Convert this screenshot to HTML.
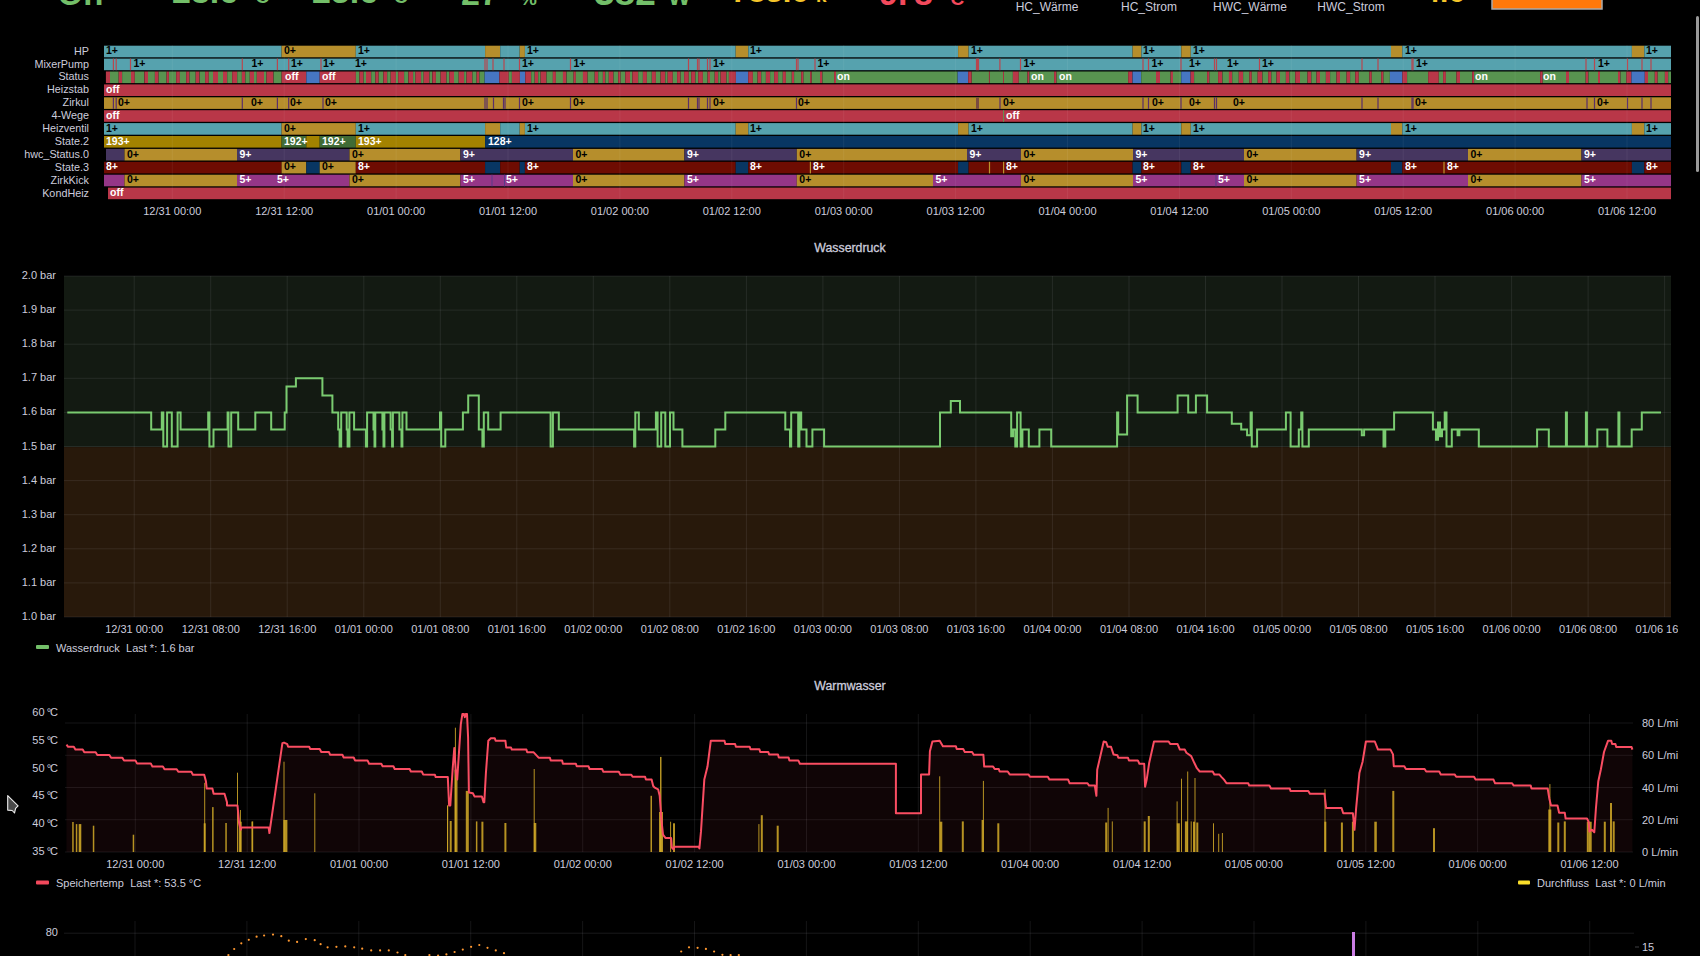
<!DOCTYPE html><html><head><meta charset="utf-8"><style>
html,body{margin:0;padding:0;background:#000;width:1700px;height:956px;overflow:hidden}
svg{position:absolute;left:0;top:0}
text{font-family:"Liberation Sans",sans-serif}
</style></head><body>
<svg width="1700" height="956" viewBox="0 0 1700 956">
<text x="57.5" y="5" font-size="33" fill="#73bf69" text-anchor="start" font-weight="bold" >On</text>
<text x="172" y="3" font-size="34" fill="#73bf69" text-anchor="start" font-weight="bold" >23.6</text>
<text x="248" y="3" font-size="19" fill="#73bf69" text-anchor="start" font-weight="bold" >°C</text>
<text x="312" y="3" font-size="34" fill="#73bf69" text-anchor="start" font-weight="bold" >25.6</text>
<text x="386.5" y="3" font-size="19" fill="#73bf69" text-anchor="start" font-weight="bold" >°C</text>
<text x="461" y="5" font-size="34" fill="#73bf69" text-anchor="start" font-weight="bold" >27</text>
<text x="520" y="5" font-size="19" fill="#73bf69" text-anchor="start" font-weight="bold" >%</text>
<text x="594" y="4.5" font-size="37" fill="#73bf69" text-anchor="start" font-weight="bold" >382</text>
<text x="668" y="4.5" font-size="24" fill="#73bf69" text-anchor="start" font-weight="bold" >W</text>
<text x="731" y="2" font-size="31" fill="#f5c52a" text-anchor="start" font-weight="bold" >783.6</text>
<text x="816" y="2" font-size="19" fill="#f5c52a" text-anchor="start" font-weight="bold" >k</text>
<text x="879" y="5" font-size="34" fill="#f2495c" text-anchor="start" font-weight="bold" >9.</text>
<text x="943" y="5" font-size="19" fill="#f2495c" text-anchor="start" font-weight="bold" >°C</text>
<text x="914" y="5" font-size="34" fill="#f2495c" text-anchor="start" font-weight="bold" >8</text>
<text x="1047" y="10.5" font-size="12" fill="#ccccdc" text-anchor="middle" font-weight="normal" >HC_Wärme</text>
<text x="1149" y="10.5" font-size="12" fill="#ccccdc" text-anchor="middle" font-weight="normal" >HC_Strom</text>
<text x="1250" y="10.5" font-size="12" fill="#ccccdc" text-anchor="middle" font-weight="normal" >HWC_Wärme</text>
<text x="1351" y="10.5" font-size="12" fill="#ccccdc" text-anchor="middle" font-weight="normal" >HWC_Strom</text>
<text x="1423.3" y="2.2" font-size="30" fill="#f5c52a" text-anchor="start" font-weight="bold" >4.6</text>
<rect x="1492" y="-4" width="110" height="13" fill="#ff780a" stroke="#aaa" stroke-width="1.5"/>
<rect x="1696" y="16" width="3" height="156" rx="1.5" fill="#9a9a9a"/>
<text x="89" y="54.6" font-size="10.8" fill="#ccccdc" text-anchor="end" font-weight="normal" >HP</text>
<text x="89" y="67.5" font-size="10.8" fill="#ccccdc" text-anchor="end" font-weight="normal" >MixerPump</text>
<text x="89" y="80.39999999999999" font-size="10.8" fill="#ccccdc" text-anchor="end" font-weight="normal" >Status</text>
<text x="89" y="93.3" font-size="10.8" fill="#ccccdc" text-anchor="end" font-weight="normal" >Heizstab</text>
<text x="89" y="106.2" font-size="10.8" fill="#ccccdc" text-anchor="end" font-weight="normal" >Zirkul</text>
<text x="89" y="119.1" font-size="10.8" fill="#ccccdc" text-anchor="end" font-weight="normal" >4-Wege</text>
<text x="89" y="132.0" font-size="10.8" fill="#ccccdc" text-anchor="end" font-weight="normal" >Heizventil</text>
<text x="89" y="144.9" font-size="10.8" fill="#ccccdc" text-anchor="end" font-weight="normal" >State.2</text>
<text x="89" y="157.8" font-size="10.8" fill="#ccccdc" text-anchor="end" font-weight="normal" >hwc_Status.0</text>
<text x="89" y="170.70000000000002" font-size="10.8" fill="#ccccdc" text-anchor="end" font-weight="normal" >State.3</text>
<text x="89" y="183.6" font-size="10.8" fill="#ccccdc" text-anchor="end" font-weight="normal" >ZirkKick</text>
<text x="89" y="196.50000000000003" font-size="10.8" fill="#ccccdc" text-anchor="end" font-weight="normal" >KondHeiz</text>
<rect x="104.0" y="45.7" width="177.6" height="11.6" fill="#56a2ae"/>
<rect x="281.6" y="45.7" width="74.2" height="11.6" fill="#b68e2c"/>
<rect x="355.8" y="45.7" width="129.3" height="11.6" fill="#56a2ae"/>
<rect x="485.1" y="45.7" width="15.1" height="11.6" fill="#b68e2c"/>
<rect x="500.2" y="45.7" width="19.5" height="11.6" fill="#56a2ae"/>
<rect x="519.7" y="45.7" width="5.2" height="11.6" fill="#b68e2c"/>
<rect x="524.9" y="45.7" width="210.8" height="11.6" fill="#56a2ae"/>
<rect x="735.7" y="45.7" width="12.6" height="11.6" fill="#b68e2c"/>
<rect x="748.3" y="45.7" width="209.8" height="11.6" fill="#56a2ae"/>
<rect x="958.1" y="45.7" width="10.5" height="11.6" fill="#b68e2c"/>
<rect x="968.6" y="45.7" width="164.0" height="11.6" fill="#56a2ae"/>
<rect x="1132.6" y="45.7" width="8.8" height="11.6" fill="#b68e2c"/>
<rect x="1141.4" y="45.7" width="39.9" height="11.6" fill="#56a2ae"/>
<rect x="1181.3" y="45.7" width="9.5" height="11.6" fill="#b68e2c"/>
<rect x="1190.8" y="45.7" width="200.2" height="11.6" fill="#56a2ae"/>
<rect x="1391.0" y="45.7" width="11.3" height="11.6" fill="#b68e2c"/>
<rect x="1402.3" y="45.7" width="229.6" height="11.6" fill="#56a2ae"/>
<rect x="1631.9" y="45.7" width="12.4" height="11.6" fill="#b68e2c"/>
<rect x="1644.3" y="45.7" width="26.7" height="11.6" fill="#56a2ae"/>
<text x="106" y="54.3" font-size="10.5" fill="#000" text-anchor="start" font-weight="bold" >1+</text>
<text x="284" y="54.3" font-size="10.5" fill="#000" text-anchor="start" font-weight="bold" >0+</text>
<text x="358" y="54.3" font-size="10.5" fill="#000" text-anchor="start" font-weight="bold" >1+</text>
<text x="527" y="54.3" font-size="10.5" fill="#000" text-anchor="start" font-weight="bold" >1+</text>
<text x="750" y="54.3" font-size="10.5" fill="#000" text-anchor="start" font-weight="bold" >1+</text>
<text x="971" y="54.3" font-size="10.5" fill="#000" text-anchor="start" font-weight="bold" >1+</text>
<text x="1143" y="54.3" font-size="10.5" fill="#000" text-anchor="start" font-weight="bold" >1+</text>
<text x="1193" y="54.3" font-size="10.5" fill="#000" text-anchor="start" font-weight="bold" >1+</text>
<text x="1405" y="54.3" font-size="10.5" fill="#000" text-anchor="start" font-weight="bold" >1+</text>
<text x="1646" y="54.3" font-size="10.5" fill="#000" text-anchor="start" font-weight="bold" >1+</text>
<rect x="104.0" y="123.1" width="177.6" height="11.6" fill="#56a2ae"/>
<rect x="281.6" y="123.1" width="74.2" height="11.6" fill="#b68e2c"/>
<rect x="355.8" y="123.1" width="129.3" height="11.6" fill="#56a2ae"/>
<rect x="485.1" y="123.1" width="15.1" height="11.6" fill="#b68e2c"/>
<rect x="500.2" y="123.1" width="19.5" height="11.6" fill="#56a2ae"/>
<rect x="519.7" y="123.1" width="5.2" height="11.6" fill="#b68e2c"/>
<rect x="524.9" y="123.1" width="210.8" height="11.6" fill="#56a2ae"/>
<rect x="735.7" y="123.1" width="12.6" height="11.6" fill="#b68e2c"/>
<rect x="748.3" y="123.1" width="209.8" height="11.6" fill="#56a2ae"/>
<rect x="958.1" y="123.1" width="10.5" height="11.6" fill="#b68e2c"/>
<rect x="968.6" y="123.1" width="164.0" height="11.6" fill="#56a2ae"/>
<rect x="1132.6" y="123.1" width="8.8" height="11.6" fill="#b68e2c"/>
<rect x="1141.4" y="123.1" width="39.9" height="11.6" fill="#56a2ae"/>
<rect x="1181.3" y="123.1" width="9.5" height="11.6" fill="#b68e2c"/>
<rect x="1190.8" y="123.1" width="200.2" height="11.6" fill="#56a2ae"/>
<rect x="1391.0" y="123.1" width="11.3" height="11.6" fill="#b68e2c"/>
<rect x="1402.3" y="123.1" width="229.6" height="11.6" fill="#56a2ae"/>
<rect x="1631.9" y="123.1" width="12.4" height="11.6" fill="#b68e2c"/>
<rect x="1644.3" y="123.1" width="26.7" height="11.6" fill="#56a2ae"/>
<text x="106" y="131.70000000000002" font-size="10.5" fill="#000" text-anchor="start" font-weight="bold" >1+</text>
<text x="284" y="131.70000000000002" font-size="10.5" fill="#000" text-anchor="start" font-weight="bold" >0+</text>
<text x="358" y="131.70000000000002" font-size="10.5" fill="#000" text-anchor="start" font-weight="bold" >1+</text>
<text x="527" y="131.70000000000002" font-size="10.5" fill="#000" text-anchor="start" font-weight="bold" >1+</text>
<text x="750" y="131.70000000000002" font-size="10.5" fill="#000" text-anchor="start" font-weight="bold" >1+</text>
<text x="971" y="131.70000000000002" font-size="10.5" fill="#000" text-anchor="start" font-weight="bold" >1+</text>
<text x="1143" y="131.70000000000002" font-size="10.5" fill="#000" text-anchor="start" font-weight="bold" >1+</text>
<text x="1193" y="131.70000000000002" font-size="10.5" fill="#000" text-anchor="start" font-weight="bold" >1+</text>
<text x="1405" y="131.70000000000002" font-size="10.5" fill="#000" text-anchor="start" font-weight="bold" >1+</text>
<text x="1646" y="131.70000000000002" font-size="10.5" fill="#000" text-anchor="start" font-weight="bold" >1+</text>
<rect x="104.0" y="58.6" width="1567.0" height="11.6" fill="#56a2ae"/>
<rect x="112.8" y="58.6" width="1.2" height="11.6" fill="#b8474f"/>
<rect x="115.6" y="58.6" width="1.2" height="11.6" fill="#b8474f"/>
<rect x="129.9" y="58.6" width="1.2" height="11.6" fill="#b8474f"/>
<rect x="241.7" y="58.6" width="1.2" height="11.6" fill="#b8474f"/>
<rect x="276.8" y="58.6" width="1.2" height="11.6" fill="#b8474f"/>
<rect x="288.1" y="58.6" width="1.2" height="11.6" fill="#b8474f"/>
<rect x="320.4" y="58.6" width="1.2" height="11.6" fill="#b8474f"/>
<rect x="484.4" y="58.6" width="1.2" height="11.6" fill="#b8474f"/>
<rect x="486.4" y="58.6" width="1.2" height="11.6" fill="#b8474f"/>
<rect x="492.4" y="58.6" width="1.2" height="11.6" fill="#b8474f"/>
<rect x="503.4" y="58.6" width="1.2" height="11.6" fill="#b8474f"/>
<rect x="518.9" y="58.6" width="1.2" height="11.6" fill="#b8474f"/>
<rect x="569.9" y="58.6" width="1.2" height="11.6" fill="#b8474f"/>
<rect x="687.9" y="58.6" width="1.2" height="11.6" fill="#b8474f"/>
<rect x="696.9" y="58.6" width="1.2" height="11.6" fill="#b8474f"/>
<rect x="698.4" y="58.6" width="1.2" height="11.6" fill="#b8474f"/>
<rect x="706.9" y="58.6" width="1.2" height="11.6" fill="#b8474f"/>
<rect x="709.4" y="58.6" width="1.2" height="11.6" fill="#b8474f"/>
<rect x="795.9" y="58.6" width="1.2" height="11.6" fill="#b8474f"/>
<rect x="797.4" y="58.6" width="1.2" height="11.6" fill="#b8474f"/>
<rect x="814.4" y="58.6" width="1.2" height="11.6" fill="#b8474f"/>
<rect x="975.9" y="58.6" width="1.2" height="11.6" fill="#b8474f"/>
<rect x="976.9" y="58.6" width="1.2" height="11.6" fill="#b8474f"/>
<rect x="977.9" y="58.6" width="1.2" height="11.6" fill="#b8474f"/>
<rect x="999.3" y="58.6" width="1.2" height="11.6" fill="#b8474f"/>
<rect x="1019.9" y="58.6" width="1.2" height="11.6" fill="#b8474f"/>
<rect x="1142.4" y="58.6" width="1.2" height="11.6" fill="#b8474f"/>
<rect x="1147.9" y="58.6" width="1.2" height="11.6" fill="#b8474f"/>
<rect x="1180.4" y="58.6" width="1.2" height="11.6" fill="#b8474f"/>
<rect x="1213.9" y="58.6" width="1.2" height="11.6" fill="#b8474f"/>
<rect x="1215.9" y="58.6" width="1.2" height="11.6" fill="#b8474f"/>
<rect x="1258.9" y="58.6" width="1.2" height="11.6" fill="#b8474f"/>
<rect x="1361.4" y="58.6" width="1.2" height="11.6" fill="#b8474f"/>
<rect x="1377.4" y="58.6" width="1.2" height="11.6" fill="#b8474f"/>
<rect x="1411.4" y="58.6" width="1.2" height="11.6" fill="#b8474f"/>
<rect x="1412.4" y="58.6" width="1.2" height="11.6" fill="#b8474f"/>
<rect x="1585.4" y="58.6" width="1.2" height="11.6" fill="#b8474f"/>
<rect x="1593.9" y="58.6" width="1.2" height="11.6" fill="#b8474f"/>
<rect x="1626.9" y="58.6" width="1.2" height="11.6" fill="#b8474f"/>
<rect x="1641.4" y="58.6" width="1.2" height="11.6" fill="#b8474f"/>
<rect x="1650.4" y="58.6" width="1.2" height="11.6" fill="#b8474f"/>
<text x="133.5" y="67.2" font-size="10.5" fill="#000" text-anchor="start" font-weight="bold" >1+</text>
<text x="251.5" y="67.2" font-size="10.5" fill="#000" text-anchor="start" font-weight="bold" >1+</text>
<text x="291" y="67.2" font-size="10.5" fill="#000" text-anchor="start" font-weight="bold" >1+</text>
<text x="323" y="67.2" font-size="10.5" fill="#000" text-anchor="start" font-weight="bold" >1+</text>
<text x="355" y="67.2" font-size="10.5" fill="#000" text-anchor="start" font-weight="bold" >1+</text>
<text x="522" y="67.2" font-size="10.5" fill="#000" text-anchor="start" font-weight="bold" >1+</text>
<text x="573.5" y="67.2" font-size="10.5" fill="#000" text-anchor="start" font-weight="bold" >1+</text>
<text x="713" y="67.2" font-size="10.5" fill="#000" text-anchor="start" font-weight="bold" >1+</text>
<text x="817.5" y="67.2" font-size="10.5" fill="#000" text-anchor="start" font-weight="bold" >1+</text>
<text x="1023.5" y="67.2" font-size="10.5" fill="#000" text-anchor="start" font-weight="bold" >1+</text>
<text x="1151.5" y="67.2" font-size="10.5" fill="#000" text-anchor="start" font-weight="bold" >1+</text>
<text x="1189" y="67.2" font-size="10.5" fill="#000" text-anchor="start" font-weight="bold" >1+</text>
<text x="1227" y="67.2" font-size="10.5" fill="#000" text-anchor="start" font-weight="bold" >1+</text>
<text x="1262" y="67.2" font-size="10.5" fill="#000" text-anchor="start" font-weight="bold" >1+</text>
<text x="1416" y="67.2" font-size="10.5" fill="#000" text-anchor="start" font-weight="bold" >1+</text>
<text x="1598" y="67.2" font-size="10.5" fill="#000" text-anchor="start" font-weight="bold" >1+</text>
<rect x="105.9" y="71.5" width="4.2" height="11.6" fill="#b93748"/>
<rect x="110.0" y="71.5" width="8.7" height="11.6" fill="#589450"/>
<rect x="118.7" y="71.5" width="3.3" height="11.6" fill="#b93748"/>
<rect x="122.1" y="71.5" width="8.9" height="11.6" fill="#589450"/>
<rect x="131.0" y="71.5" width="3.8" height="11.6" fill="#b93748"/>
<rect x="134.8" y="71.5" width="9.5" height="11.6" fill="#589450"/>
<rect x="144.4" y="71.5" width="3.7" height="11.6" fill="#b93748"/>
<rect x="148.0" y="71.5" width="6.9" height="11.6" fill="#589450"/>
<rect x="154.9" y="71.5" width="3.7" height="11.6" fill="#b93748"/>
<rect x="158.6" y="71.5" width="8.0" height="11.6" fill="#589450"/>
<rect x="166.6" y="71.5" width="2.3" height="11.6" fill="#b93748"/>
<rect x="169.0" y="71.5" width="7.2" height="11.6" fill="#589450"/>
<rect x="176.2" y="71.5" width="3.7" height="11.6" fill="#b93748"/>
<rect x="179.8" y="71.5" width="6.4" height="11.6" fill="#589450"/>
<rect x="186.2" y="71.5" width="3.3" height="11.6" fill="#b93748"/>
<rect x="189.5" y="71.5" width="6.2" height="11.6" fill="#589450"/>
<rect x="195.7" y="71.5" width="3.8" height="11.6" fill="#b93748"/>
<rect x="199.6" y="71.5" width="5.5" height="11.6" fill="#589450"/>
<rect x="205.1" y="71.5" width="3.7" height="11.6" fill="#b93748"/>
<rect x="208.8" y="71.5" width="4.2" height="11.6" fill="#589450"/>
<rect x="213.0" y="71.5" width="5.0" height="11.6" fill="#b93748"/>
<rect x="218.0" y="71.5" width="5.0" height="11.6" fill="#589450"/>
<rect x="223.0" y="71.5" width="4.2" height="11.6" fill="#b93748"/>
<rect x="227.2" y="71.5" width="5.0" height="11.6" fill="#589450"/>
<rect x="232.2" y="71.5" width="5.0" height="11.6" fill="#b93748"/>
<rect x="237.2" y="71.5" width="4.7" height="11.6" fill="#589450"/>
<rect x="241.9" y="71.5" width="3.3" height="11.6" fill="#b93748"/>
<rect x="245.3" y="71.5" width="4.5" height="11.6" fill="#589450"/>
<rect x="249.8" y="71.5" width="4.2" height="11.6" fill="#b93748"/>
<rect x="254.0" y="71.5" width="2.8" height="11.6" fill="#589450"/>
<rect x="256.8" y="71.5" width="7.2" height="11.6" fill="#b93748"/>
<rect x="264.0" y="71.5" width="2.5" height="11.6" fill="#589450"/>
<rect x="266.5" y="71.5" width="7.0" height="11.6" fill="#b93748"/>
<rect x="273.6" y="71.5" width="8.0" height="11.6" fill="#589450"/>
<rect x="281.6" y="71.5" width="24.7" height="11.6" fill="#b93748"/>
<rect x="306.3" y="71.5" width="13.4" height="11.6" fill="#4676c2"/>
<rect x="319.7" y="71.5" width="36.2" height="11.6" fill="#b93748"/>
<rect x="355.9" y="71.5" width="3.5" height="11.6" fill="#589450"/>
<rect x="359.4" y="71.5" width="4.2" height="11.6" fill="#b93748"/>
<rect x="363.6" y="71.5" width="2.4" height="11.6" fill="#589450"/>
<rect x="366.0" y="71.5" width="5.2" height="11.6" fill="#b93748"/>
<rect x="371.2" y="71.5" width="4.2" height="11.6" fill="#589450"/>
<rect x="375.4" y="71.5" width="3.3" height="11.6" fill="#b93748"/>
<rect x="378.7" y="71.5" width="4.7" height="11.6" fill="#589450"/>
<rect x="383.4" y="71.5" width="3.8" height="11.6" fill="#b93748"/>
<rect x="387.2" y="71.5" width="3.5" height="11.6" fill="#589450"/>
<rect x="390.7" y="71.5" width="5.2" height="11.6" fill="#b93748"/>
<rect x="395.9" y="71.5" width="2.4" height="11.6" fill="#589450"/>
<rect x="398.2" y="71.5" width="5.9" height="11.6" fill="#b93748"/>
<rect x="404.1" y="71.5" width="4.2" height="11.6" fill="#589450"/>
<rect x="408.4" y="71.5" width="4.7" height="11.6" fill="#b93748"/>
<rect x="413.1" y="71.5" width="2.4" height="11.6" fill="#589450"/>
<rect x="415.4" y="71.5" width="5.6" height="11.6" fill="#b93748"/>
<rect x="421.1" y="71.5" width="2.6" height="11.6" fill="#589450"/>
<rect x="423.6" y="71.5" width="5.9" height="11.6" fill="#b93748"/>
<rect x="429.5" y="71.5" width="2.8" height="11.6" fill="#589450"/>
<rect x="432.4" y="71.5" width="3.5" height="11.6" fill="#b93748"/>
<rect x="435.9" y="71.5" width="4.7" height="11.6" fill="#589450"/>
<rect x="440.6" y="71.5" width="5.9" height="11.6" fill="#b93748"/>
<rect x="446.5" y="71.5" width="2.8" height="11.6" fill="#589450"/>
<rect x="449.3" y="71.5" width="4.7" height="11.6" fill="#b93748"/>
<rect x="454.0" y="71.5" width="4.7" height="11.6" fill="#589450"/>
<rect x="458.7" y="71.5" width="5.4" height="11.6" fill="#b93748"/>
<rect x="464.1" y="71.5" width="2.4" height="11.6" fill="#589450"/>
<rect x="466.5" y="71.5" width="5.9" height="11.6" fill="#b93748"/>
<rect x="472.4" y="71.5" width="4.2" height="11.6" fill="#589450"/>
<rect x="476.6" y="71.5" width="2.8" height="11.6" fill="#b93748"/>
<rect x="479.4" y="71.5" width="5.2" height="11.6" fill="#589450"/>
<rect x="484.6" y="71.5" width="14.8" height="11.6" fill="#4676c2"/>
<rect x="499.4" y="71.5" width="9.4" height="11.6" fill="#b93748"/>
<rect x="508.8" y="71.5" width="3.1" height="11.6" fill="#589450"/>
<rect x="511.9" y="71.5" width="8.0" height="11.6" fill="#b93748"/>
<rect x="519.9" y="71.5" width="5.4" height="11.6" fill="#4676c2"/>
<rect x="525.3" y="71.5" width="5.9" height="11.6" fill="#b93748"/>
<rect x="531.2" y="71.5" width="3.5" height="11.6" fill="#589450"/>
<rect x="534.7" y="71.5" width="3.5" height="11.6" fill="#b93748"/>
<rect x="538.2" y="71.5" width="2.4" height="11.6" fill="#589450"/>
<rect x="540.6" y="71.5" width="5.9" height="11.6" fill="#b93748"/>
<rect x="546.5" y="71.5" width="6.4" height="11.6" fill="#589450"/>
<rect x="552.8" y="71.5" width="3.1" height="11.6" fill="#b93748"/>
<rect x="555.9" y="71.5" width="7.1" height="11.6" fill="#589450"/>
<rect x="562.9" y="71.5" width="3.5" height="11.6" fill="#b93748"/>
<rect x="566.5" y="71.5" width="7.1" height="11.6" fill="#589450"/>
<rect x="573.5" y="71.5" width="2.4" height="11.6" fill="#b93748"/>
<rect x="575.9" y="71.5" width="7.1" height="11.6" fill="#589450"/>
<rect x="582.9" y="71.5" width="4.7" height="11.6" fill="#b93748"/>
<rect x="587.6" y="71.5" width="7.1" height="11.6" fill="#589450"/>
<rect x="594.7" y="71.5" width="3.5" height="11.6" fill="#b93748"/>
<rect x="598.2" y="71.5" width="4.7" height="11.6" fill="#589450"/>
<rect x="602.9" y="71.5" width="2.4" height="11.6" fill="#b93748"/>
<rect x="605.3" y="71.5" width="3.5" height="11.6" fill="#589450"/>
<rect x="608.8" y="71.5" width="4.7" height="11.6" fill="#b93748"/>
<rect x="613.5" y="71.5" width="4.7" height="11.6" fill="#589450"/>
<rect x="618.2" y="71.5" width="2.4" height="11.6" fill="#b93748"/>
<rect x="620.6" y="71.5" width="4.7" height="11.6" fill="#589450"/>
<rect x="625.3" y="71.5" width="4.7" height="11.6" fill="#b93748"/>
<rect x="630.0" y="71.5" width="2.4" height="11.6" fill="#589450"/>
<rect x="632.4" y="71.5" width="5.9" height="11.6" fill="#b93748"/>
<rect x="638.2" y="71.5" width="4.7" height="11.6" fill="#589450"/>
<rect x="642.9" y="71.5" width="4.0" height="11.6" fill="#b93748"/>
<rect x="646.9" y="71.5" width="4.9" height="11.6" fill="#589450"/>
<rect x="651.9" y="71.5" width="4.0" height="11.6" fill="#b93748"/>
<rect x="655.9" y="71.5" width="4.7" height="11.6" fill="#589450"/>
<rect x="660.6" y="71.5" width="4.7" height="11.6" fill="#b93748"/>
<rect x="665.3" y="71.5" width="2.4" height="11.6" fill="#589450"/>
<rect x="667.6" y="71.5" width="5.2" height="11.6" fill="#b93748"/>
<rect x="672.8" y="71.5" width="4.2" height="11.6" fill="#589450"/>
<rect x="677.1" y="71.5" width="3.5" height="11.6" fill="#b93748"/>
<rect x="680.6" y="71.5" width="3.5" height="11.6" fill="#589450"/>
<rect x="684.1" y="71.5" width="4.7" height="11.6" fill="#b93748"/>
<rect x="688.8" y="71.5" width="2.4" height="11.6" fill="#589450"/>
<rect x="691.2" y="71.5" width="4.2" height="11.6" fill="#b93748"/>
<rect x="695.4" y="71.5" width="2.8" height="11.6" fill="#589450"/>
<rect x="698.2" y="71.5" width="4.7" height="11.6" fill="#b93748"/>
<rect x="702.9" y="71.5" width="4.7" height="11.6" fill="#589450"/>
<rect x="707.6" y="71.5" width="2.4" height="11.6" fill="#b93748"/>
<rect x="710.0" y="71.5" width="4.7" height="11.6" fill="#589450"/>
<rect x="714.7" y="71.5" width="3.5" height="11.6" fill="#b93748"/>
<rect x="718.2" y="71.5" width="2.4" height="11.6" fill="#589450"/>
<rect x="720.6" y="71.5" width="5.9" height="11.6" fill="#b93748"/>
<rect x="726.5" y="71.5" width="2.4" height="11.6" fill="#589450"/>
<rect x="728.8" y="71.5" width="7.1" height="11.6" fill="#b93748"/>
<rect x="735.9" y="71.5" width="4.1" height="11.6" fill="#4676c2"/>
<rect x="740.0" y="71.5" width="8.2" height="11.6" fill="#4676c2"/>
<rect x="748.2" y="71.5" width="4.7" height="11.6" fill="#b93748"/>
<rect x="752.9" y="71.5" width="4.7" height="11.6" fill="#589450"/>
<rect x="757.6" y="71.5" width="3.5" height="11.6" fill="#b93748"/>
<rect x="761.2" y="71.5" width="4.7" height="11.6" fill="#589450"/>
<rect x="765.9" y="71.5" width="4.2" height="11.6" fill="#b93748"/>
<rect x="770.1" y="71.5" width="4.0" height="11.6" fill="#589450"/>
<rect x="774.1" y="71.5" width="4.0" height="11.6" fill="#b93748"/>
<rect x="778.1" y="71.5" width="4.7" height="11.6" fill="#589450"/>
<rect x="782.8" y="71.5" width="3.1" height="11.6" fill="#b93748"/>
<rect x="785.9" y="71.5" width="5.9" height="11.6" fill="#589450"/>
<rect x="791.8" y="71.5" width="2.4" height="11.6" fill="#b93748"/>
<rect x="794.1" y="71.5" width="7.1" height="11.6" fill="#589450"/>
<rect x="801.2" y="71.5" width="2.4" height="11.6" fill="#b93748"/>
<rect x="803.5" y="71.5" width="6.6" height="11.6" fill="#589450"/>
<rect x="810.1" y="71.5" width="1.6" height="11.6" fill="#b93748"/>
<rect x="811.8" y="71.5" width="8.2" height="11.6" fill="#589450"/>
<rect x="820.0" y="71.5" width="2.4" height="11.6" fill="#b93748"/>
<rect x="822.4" y="71.5" width="11.8" height="11.6" fill="#589450"/>
<rect x="834.1" y="71.5" width="1.9" height="11.6" fill="#b93748"/>
<rect x="836.0" y="71.5" width="121.6" height="11.6" fill="#589450"/>
<rect x="957.6" y="71.5" width="10.6" height="11.6" fill="#4676c2"/>
<rect x="968.2" y="71.5" width="3.5" height="11.6" fill="#b93748"/>
<rect x="971.8" y="71.5" width="17.2" height="11.6" fill="#589450"/>
<rect x="988.9" y="71.5" width="0.9" height="11.6" fill="#b93748"/>
<rect x="989.9" y="71.5" width="13.2" height="11.6" fill="#589450"/>
<rect x="1003.1" y="71.5" width="0.9" height="11.6" fill="#b93748"/>
<rect x="1004.0" y="71.5" width="8.9" height="11.6" fill="#589450"/>
<rect x="1012.9" y="71.5" width="5.9" height="11.6" fill="#b93748"/>
<rect x="1018.8" y="71.5" width="8.7" height="11.6" fill="#589450"/>
<rect x="1027.5" y="71.5" width="1.9" height="11.6" fill="#b93748"/>
<rect x="1029.4" y="71.5" width="24.7" height="11.6" fill="#589450"/>
<rect x="1054.1" y="71.5" width="2.4" height="11.6" fill="#b93748"/>
<rect x="1056.5" y="71.5" width="71.8" height="11.6" fill="#589450"/>
<rect x="1128.2" y="71.5" width="4.2" height="11.6" fill="#b93748"/>
<rect x="1132.5" y="71.5" width="8.7" height="11.6" fill="#4676c2"/>
<rect x="1141.2" y="71.5" width="14.8" height="11.6" fill="#589450"/>
<rect x="1156.0" y="71.5" width="4.0" height="11.6" fill="#b93748"/>
<rect x="1160.0" y="71.5" width="10.6" height="11.6" fill="#589450"/>
<rect x="1170.6" y="71.5" width="2.4" height="11.6" fill="#b93748"/>
<rect x="1172.9" y="71.5" width="8.2" height="11.6" fill="#589450"/>
<rect x="1181.2" y="71.5" width="9.4" height="11.6" fill="#4676c2"/>
<rect x="1190.6" y="71.5" width="3.5" height="11.6" fill="#b93748"/>
<rect x="1194.1" y="71.5" width="12.9" height="11.6" fill="#589450"/>
<rect x="1207.1" y="71.5" width="2.4" height="11.6" fill="#b93748"/>
<rect x="1209.4" y="71.5" width="8.7" height="11.6" fill="#589450"/>
<rect x="1218.1" y="71.5" width="4.2" height="11.6" fill="#b93748"/>
<rect x="1222.4" y="71.5" width="6.6" height="11.6" fill="#589450"/>
<rect x="1228.9" y="71.5" width="3.3" height="11.6" fill="#b93748"/>
<rect x="1232.2" y="71.5" width="6.6" height="11.6" fill="#589450"/>
<rect x="1238.8" y="71.5" width="4.2" height="11.6" fill="#b93748"/>
<rect x="1243.1" y="71.5" width="6.4" height="11.6" fill="#589450"/>
<rect x="1249.4" y="71.5" width="2.4" height="11.6" fill="#b93748"/>
<rect x="1251.8" y="71.5" width="5.9" height="11.6" fill="#589450"/>
<rect x="1257.6" y="71.5" width="4.7" height="11.6" fill="#b93748"/>
<rect x="1262.4" y="71.5" width="5.9" height="11.6" fill="#589450"/>
<rect x="1268.2" y="71.5" width="3.1" height="11.6" fill="#b93748"/>
<rect x="1271.3" y="71.5" width="5.2" height="11.6" fill="#589450"/>
<rect x="1276.5" y="71.5" width="3.5" height="11.6" fill="#b93748"/>
<rect x="1280.0" y="71.5" width="5.9" height="11.6" fill="#589450"/>
<rect x="1285.9" y="71.5" width="3.5" height="11.6" fill="#b93748"/>
<rect x="1289.4" y="71.5" width="5.9" height="11.6" fill="#589450"/>
<rect x="1295.3" y="71.5" width="4.7" height="11.6" fill="#b93748"/>
<rect x="1300.0" y="71.5" width="7.5" height="11.6" fill="#589450"/>
<rect x="1307.5" y="71.5" width="3.8" height="11.6" fill="#b93748"/>
<rect x="1311.3" y="71.5" width="5.2" height="11.6" fill="#589450"/>
<rect x="1316.5" y="71.5" width="3.5" height="11.6" fill="#b93748"/>
<rect x="1320.0" y="71.5" width="5.9" height="11.6" fill="#589450"/>
<rect x="1325.9" y="71.5" width="4.2" height="11.6" fill="#b93748"/>
<rect x="1330.1" y="71.5" width="6.4" height="11.6" fill="#589450"/>
<rect x="1336.5" y="71.5" width="3.5" height="11.6" fill="#b93748"/>
<rect x="1340.0" y="71.5" width="6.6" height="11.6" fill="#589450"/>
<rect x="1346.6" y="71.5" width="3.5" height="11.6" fill="#b93748"/>
<rect x="1350.1" y="71.5" width="5.2" height="11.6" fill="#589450"/>
<rect x="1355.3" y="71.5" width="3.5" height="11.6" fill="#b93748"/>
<rect x="1358.8" y="71.5" width="10.6" height="11.6" fill="#589450"/>
<rect x="1369.4" y="71.5" width="2.4" height="11.6" fill="#b93748"/>
<rect x="1371.8" y="71.5" width="9.4" height="11.6" fill="#589450"/>
<rect x="1381.2" y="71.5" width="2.4" height="11.6" fill="#b93748"/>
<rect x="1383.5" y="71.5" width="6.4" height="11.6" fill="#589450"/>
<rect x="1389.9" y="71.5" width="12.5" height="11.6" fill="#4676c2"/>
<rect x="1402.4" y="71.5" width="4.7" height="11.6" fill="#b93748"/>
<rect x="1407.1" y="71.5" width="21.2" height="11.6" fill="#589450"/>
<rect x="1428.2" y="71.5" width="10.6" height="11.6" fill="#b93748"/>
<rect x="1438.8" y="71.5" width="4.2" height="11.6" fill="#589450"/>
<rect x="1443.1" y="71.5" width="2.8" height="11.6" fill="#b93748"/>
<rect x="1445.9" y="71.5" width="10.6" height="11.6" fill="#589450"/>
<rect x="1456.5" y="71.5" width="3.5" height="11.6" fill="#b93748"/>
<rect x="1460.0" y="71.5" width="12.2" height="11.6" fill="#589450"/>
<rect x="1472.2" y="71.5" width="1.9" height="11.6" fill="#b93748"/>
<rect x="1474.1" y="71.5" width="66.1" height="11.6" fill="#589450"/>
<rect x="1540.2" y="71.5" width="2.5" height="11.6" fill="#b93748"/>
<rect x="1542.7" y="71.5" width="23.3" height="11.6" fill="#589450"/>
<rect x="1566.0" y="71.5" width="3.0" height="11.6" fill="#b93748"/>
<rect x="1569.0" y="71.5" width="16.7" height="11.6" fill="#589450"/>
<rect x="1585.7" y="71.5" width="2.7" height="11.6" fill="#b93748"/>
<rect x="1588.4" y="71.5" width="9.6" height="11.6" fill="#589450"/>
<rect x="1598.0" y="71.5" width="2.0" height="11.6" fill="#b93748"/>
<rect x="1600.0" y="71.5" width="18.0" height="11.6" fill="#589450"/>
<rect x="1618.0" y="71.5" width="2.5" height="11.6" fill="#b93748"/>
<rect x="1620.5" y="71.5" width="5.9" height="11.6" fill="#589450"/>
<rect x="1626.4" y="71.5" width="5.0" height="11.6" fill="#b93748"/>
<rect x="1631.4" y="71.5" width="13.4" height="11.6" fill="#4676c2"/>
<rect x="1644.8" y="71.5" width="3.2" height="11.6" fill="#b93748"/>
<rect x="1648.0" y="71.5" width="6.8" height="11.6" fill="#589450"/>
<rect x="1654.8" y="71.5" width="2.9" height="11.6" fill="#b93748"/>
<rect x="1657.7" y="71.5" width="7.2" height="11.6" fill="#589450"/>
<rect x="1664.9" y="71.5" width="3.3" height="11.6" fill="#b93748"/>
<rect x="1668.2" y="71.5" width="2.8" height="11.6" fill="#589450"/>
<text x="285" y="80.1" font-size="10.5" fill="#fff" text-anchor="start" font-weight="bold" >off</text>
<text x="322" y="80.1" font-size="10.5" fill="#fff" text-anchor="start" font-weight="bold" >off</text>
<text x="837" y="80.1" font-size="10.5" fill="#fff" text-anchor="start" font-weight="bold" >on</text>
<text x="1031" y="80.1" font-size="10.5" fill="#fff" text-anchor="start" font-weight="bold" >on</text>
<text x="1059" y="80.1" font-size="10.5" fill="#fff" text-anchor="start" font-weight="bold" >on</text>
<text x="1475" y="80.1" font-size="10.5" fill="#fff" text-anchor="start" font-weight="bold" >on</text>
<text x="1543" y="80.1" font-size="10.5" fill="#fff" text-anchor="start" font-weight="bold" >on</text>
<rect x="104.0" y="84.4" width="1567.0" height="11.6" fill="#b93748"/>
<text x="106" y="93.0" font-size="10.5" fill="#fff" text-anchor="start" font-weight="bold" >off</text>
<rect x="104.0" y="110.2" width="1567.0" height="11.6" fill="#b93748"/>
<rect x="1003.1" y="110.2" width="1" height="11.6" fill="#5c9954"/>
<text x="106" y="118.8" font-size="10.5" fill="#fff" text-anchor="start" font-weight="bold" >off</text>
<text x="1006" y="118.8" font-size="10.5" fill="#fff" text-anchor="start" font-weight="bold" >off</text>
<rect x="108.0" y="187.6" width="1563.0" height="11.6" fill="#b93748"/>
<text x="110" y="196.20000000000005" font-size="10.5" fill="#fff" text-anchor="start" font-weight="bold" >off</text>
<rect x="104.0" y="97.3" width="1567.0" height="11.6" fill="#b68e2c"/>
<rect x="112.8" y="97.3" width="1.2" height="11.6" fill="#5a2f6a"/>
<rect x="115.6" y="97.3" width="1.2" height="11.6" fill="#5a2f6a"/>
<rect x="241.7" y="97.3" width="1.2" height="11.6" fill="#5a2f6a"/>
<rect x="276.8" y="97.3" width="1.2" height="11.6" fill="#5a2f6a"/>
<rect x="288.1" y="97.3" width="1.2" height="11.6" fill="#5a2f6a"/>
<rect x="322.4" y="97.3" width="1.2" height="11.6" fill="#5a2f6a"/>
<rect x="484.4" y="97.3" width="1.2" height="11.6" fill="#5a2f6a"/>
<rect x="486.4" y="97.3" width="1.2" height="11.6" fill="#5a2f6a"/>
<rect x="492.9" y="97.3" width="1.2" height="11.6" fill="#5a2f6a"/>
<rect x="502.9" y="97.3" width="1.2" height="11.6" fill="#5a2f6a"/>
<rect x="504.4" y="97.3" width="1.2" height="11.6" fill="#5a2f6a"/>
<rect x="518.9" y="97.3" width="1.2" height="11.6" fill="#5a2f6a"/>
<rect x="569.9" y="97.3" width="1.2" height="11.6" fill="#5a2f6a"/>
<rect x="687.9" y="97.3" width="1.2" height="11.6" fill="#5a2f6a"/>
<rect x="696.9" y="97.3" width="1.2" height="11.6" fill="#5a2f6a"/>
<rect x="698.4" y="97.3" width="1.2" height="11.6" fill="#5a2f6a"/>
<rect x="706.9" y="97.3" width="1.2" height="11.6" fill="#5a2f6a"/>
<rect x="709.4" y="97.3" width="1.2" height="11.6" fill="#5a2f6a"/>
<rect x="795.9" y="97.3" width="1.2" height="11.6" fill="#5a2f6a"/>
<rect x="999.4" y="97.3" width="1.2" height="11.6" fill="#5a2f6a"/>
<rect x="1142.4" y="97.3" width="1.2" height="11.6" fill="#5a2f6a"/>
<rect x="1147.9" y="97.3" width="1.2" height="11.6" fill="#5a2f6a"/>
<rect x="1180.4" y="97.3" width="1.2" height="11.6" fill="#5a2f6a"/>
<rect x="1213.9" y="97.3" width="1.2" height="11.6" fill="#5a2f6a"/>
<rect x="1215.9" y="97.3" width="1.2" height="11.6" fill="#5a2f6a"/>
<rect x="1361.4" y="97.3" width="1.2" height="11.6" fill="#5a2f6a"/>
<rect x="1377.4" y="97.3" width="1.2" height="11.6" fill="#5a2f6a"/>
<rect x="1411.4" y="97.3" width="1.2" height="11.6" fill="#5a2f6a"/>
<rect x="1412.4" y="97.3" width="1.2" height="11.6" fill="#5a2f6a"/>
<rect x="1586.4" y="97.3" width="1.2" height="11.6" fill="#5a2f6a"/>
<rect x="1593.9" y="97.3" width="1.2" height="11.6" fill="#5a2f6a"/>
<rect x="1626.9" y="97.3" width="1.2" height="11.6" fill="#5a2f6a"/>
<rect x="1641.4" y="97.3" width="1.2" height="11.6" fill="#5a2f6a"/>
<rect x="1650.4" y="97.3" width="1.2" height="11.6" fill="#5a2f6a"/>
<rect x="976.0" y="97.3" width="3" height="11.6" fill="#7a4a40"/>
<text x="118" y="105.9" font-size="10.5" fill="#000" text-anchor="start" font-weight="bold" >0+</text>
<text x="251" y="105.9" font-size="10.5" fill="#000" text-anchor="start" font-weight="bold" >0+</text>
<text x="290" y="105.9" font-size="10.5" fill="#000" text-anchor="start" font-weight="bold" >0+</text>
<text x="325" y="105.9" font-size="10.5" fill="#000" text-anchor="start" font-weight="bold" >0+</text>
<text x="522" y="105.9" font-size="10.5" fill="#000" text-anchor="start" font-weight="bold" >0+</text>
<text x="573" y="105.9" font-size="10.5" fill="#000" text-anchor="start" font-weight="bold" >0+</text>
<text x="713" y="105.9" font-size="10.5" fill="#000" text-anchor="start" font-weight="bold" >0+</text>
<text x="798" y="105.9" font-size="10.5" fill="#000" text-anchor="start" font-weight="bold" >0+</text>
<text x="1003" y="105.9" font-size="10.5" fill="#000" text-anchor="start" font-weight="bold" >0+</text>
<text x="1152" y="105.9" font-size="10.5" fill="#000" text-anchor="start" font-weight="bold" >0+</text>
<text x="1189" y="105.9" font-size="10.5" fill="#000" text-anchor="start" font-weight="bold" >0+</text>
<text x="1233" y="105.9" font-size="10.5" fill="#000" text-anchor="start" font-weight="bold" >0+</text>
<text x="1415" y="105.9" font-size="10.5" fill="#000" text-anchor="start" font-weight="bold" >0+</text>
<text x="1597" y="105.9" font-size="10.5" fill="#000" text-anchor="start" font-weight="bold" >0+</text>
<rect x="104.0" y="136.0" width="177.6" height="11.6" fill="#a38200"/>
<rect x="281.6" y="136.0" width="24.7" height="11.6" fill="#406b35"/>
<rect x="306.3" y="136.0" width="13.4" height="11.6" fill="#a38200"/>
<rect x="319.7" y="136.0" width="36.1" height="11.6" fill="#406b35"/>
<rect x="355.8" y="136.0" width="129.3" height="11.6" fill="#a38200"/>
<rect x="485.1" y="136.0" width="1185.9" height="11.6" fill="#083663"/>
<text x="106" y="144.60000000000002" font-size="10.5" fill="#fff" text-anchor="start" font-weight="bold" >193+</text>
<text x="284" y="144.60000000000002" font-size="10.5" fill="#fff" text-anchor="start" font-weight="bold" >192+</text>
<text x="322" y="144.60000000000002" font-size="10.5" fill="#fff" text-anchor="start" font-weight="bold" >192+</text>
<text x="358" y="144.60000000000002" font-size="10.5" fill="#fff" text-anchor="start" font-weight="bold" >193+</text>
<text x="488" y="144.60000000000002" font-size="10.5" fill="#fff" text-anchor="start" font-weight="bold" >128+</text>
<rect x="106.0" y="148.9" width="18.5" height="11.6" fill="#463660"/>
<rect x="124.5" y="148.9" width="112.5" height="11.6" fill="#b68e2c"/>
<rect x="237.0" y="148.9" width="112.5" height="11.6" fill="#463660"/>
<rect x="349.5" y="148.9" width="110.9" height="11.6" fill="#b68e2c"/>
<rect x="460.4" y="148.9" width="112.6" height="11.6" fill="#463660"/>
<rect x="573.0" y="148.9" width="111.4" height="11.6" fill="#b68e2c"/>
<rect x="684.4" y="148.9" width="112.4" height="11.6" fill="#463660"/>
<rect x="796.8" y="148.9" width="170.2" height="11.6" fill="#b68e2c"/>
<rect x="967.0" y="148.9" width="53.9" height="11.6" fill="#463660"/>
<rect x="1020.9" y="148.9" width="112.1" height="11.6" fill="#b68e2c"/>
<rect x="1133.0" y="148.9" width="111.0" height="11.6" fill="#463660"/>
<rect x="1244.0" y="148.9" width="112.6" height="11.6" fill="#b68e2c"/>
<rect x="1356.6" y="148.9" width="111.4" height="11.6" fill="#463660"/>
<rect x="1468.0" y="148.9" width="113.5" height="11.6" fill="#b68e2c"/>
<rect x="1581.5" y="148.9" width="89.5" height="11.6" fill="#463660"/>
<text x="127.0" y="157.50000000000003" font-size="10.5" fill="#000" text-anchor="start" font-weight="bold" >0+</text>
<text x="239.5" y="157.50000000000003" font-size="10.5" fill="#fff" text-anchor="start" font-weight="bold" >9+</text>
<text x="352.0" y="157.50000000000003" font-size="10.5" fill="#000" text-anchor="start" font-weight="bold" >0+</text>
<text x="462.9" y="157.50000000000003" font-size="10.5" fill="#fff" text-anchor="start" font-weight="bold" >9+</text>
<text x="575.5" y="157.50000000000003" font-size="10.5" fill="#000" text-anchor="start" font-weight="bold" >0+</text>
<text x="686.9" y="157.50000000000003" font-size="10.5" fill="#fff" text-anchor="start" font-weight="bold" >9+</text>
<text x="799.3" y="157.50000000000003" font-size="10.5" fill="#000" text-anchor="start" font-weight="bold" >0+</text>
<text x="969.5" y="157.50000000000003" font-size="10.5" fill="#fff" text-anchor="start" font-weight="bold" >9+</text>
<text x="1023.4" y="157.50000000000003" font-size="10.5" fill="#000" text-anchor="start" font-weight="bold" >0+</text>
<text x="1135.5" y="157.50000000000003" font-size="10.5" fill="#fff" text-anchor="start" font-weight="bold" >9+</text>
<text x="1246.5" y="157.50000000000003" font-size="10.5" fill="#000" text-anchor="start" font-weight="bold" >0+</text>
<text x="1359.1" y="157.50000000000003" font-size="10.5" fill="#fff" text-anchor="start" font-weight="bold" >9+</text>
<text x="1470.5" y="157.50000000000003" font-size="10.5" fill="#000" text-anchor="start" font-weight="bold" >0+</text>
<text x="1584.0" y="157.50000000000003" font-size="10.5" fill="#fff" text-anchor="start" font-weight="bold" >9+</text>
<rect x="104.0" y="161.8" width="177.6" height="11.6" fill="#6e0c02"/>
<rect x="281.6" y="161.8" width="24.7" height="11.6" fill="#b68e2c"/>
<rect x="306.3" y="161.8" width="13.4" height="11.6" fill="#083663"/>
<rect x="319.7" y="161.8" width="36.1" height="11.6" fill="#b68e2c"/>
<rect x="355.8" y="161.8" width="129.3" height="11.6" fill="#6e0c02"/>
<rect x="485.1" y="161.8" width="15.1" height="11.6" fill="#083663"/>
<rect x="500.2" y="161.8" width="19.5" height="11.6" fill="#6e0c02"/>
<rect x="519.7" y="161.8" width="5.2" height="11.6" fill="#083663"/>
<rect x="524.9" y="161.8" width="210.8" height="11.6" fill="#6e0c02"/>
<rect x="735.7" y="161.8" width="12.6" height="11.6" fill="#083663"/>
<rect x="748.3" y="161.8" width="209.8" height="11.6" fill="#6e0c02"/>
<rect x="958.1" y="161.8" width="10.5" height="11.6" fill="#083663"/>
<rect x="968.6" y="161.8" width="164.0" height="11.6" fill="#6e0c02"/>
<rect x="1132.6" y="161.8" width="8.8" height="11.6" fill="#083663"/>
<rect x="1141.4" y="161.8" width="39.9" height="11.6" fill="#6e0c02"/>
<rect x="1181.3" y="161.8" width="9.5" height="11.6" fill="#083663"/>
<rect x="1190.8" y="161.8" width="200.2" height="11.6" fill="#6e0c02"/>
<rect x="1391.0" y="161.8" width="11.3" height="11.6" fill="#083663"/>
<rect x="1402.3" y="161.8" width="229.6" height="11.6" fill="#6e0c02"/>
<rect x="1631.9" y="161.8" width="12.4" height="11.6" fill="#083663"/>
<rect x="1644.3" y="161.8" width="26.7" height="11.6" fill="#6e0c02"/>
<rect x="809.8" y="161.8" width="1.2" height="11.6" fill="#bb932e"/>
<rect x="988.9" y="161.8" width="1.2" height="11.6" fill="#bb932e"/>
<rect x="1003.0" y="161.8" width="1.2" height="11.6" fill="#bb932e"/>
<rect x="1443.4" y="161.8" width="1.2" height="11.6" fill="#bb932e"/>
<text x="106" y="170.40000000000003" font-size="10.5" fill="#fff" text-anchor="start" font-weight="bold" >8+</text>
<text x="284" y="170.40000000000003" font-size="10.5" fill="#000" text-anchor="start" font-weight="bold" >0+</text>
<text x="322" y="170.40000000000003" font-size="10.5" fill="#000" text-anchor="start" font-weight="bold" >0+</text>
<text x="358" y="170.40000000000003" font-size="10.5" fill="#fff" text-anchor="start" font-weight="bold" >8+</text>
<text x="527" y="170.40000000000003" font-size="10.5" fill="#fff" text-anchor="start" font-weight="bold" >8+</text>
<text x="750" y="170.40000000000003" font-size="10.5" fill="#fff" text-anchor="start" font-weight="bold" >8+</text>
<text x="813" y="170.40000000000003" font-size="10.5" fill="#fff" text-anchor="start" font-weight="bold" >8+</text>
<text x="1006" y="170.40000000000003" font-size="10.5" fill="#fff" text-anchor="start" font-weight="bold" >8+</text>
<text x="1143" y="170.40000000000003" font-size="10.5" fill="#fff" text-anchor="start" font-weight="bold" >8+</text>
<text x="1193" y="170.40000000000003" font-size="10.5" fill="#fff" text-anchor="start" font-weight="bold" >8+</text>
<text x="1405" y="170.40000000000003" font-size="10.5" fill="#fff" text-anchor="start" font-weight="bold" >8+</text>
<text x="1447" y="170.40000000000003" font-size="10.5" fill="#fff" text-anchor="start" font-weight="bold" >8+</text>
<text x="1646" y="170.40000000000003" font-size="10.5" fill="#fff" text-anchor="start" font-weight="bold" >8+</text>
<rect x="104.0" y="174.7" width="20.5" height="11.6" fill="#953687"/>
<rect x="124.5" y="174.7" width="112.5" height="11.6" fill="#b68e2c"/>
<rect x="237.0" y="174.7" width="112.5" height="11.6" fill="#953687"/>
<rect x="349.5" y="174.7" width="110.9" height="11.6" fill="#b68e2c"/>
<rect x="460.4" y="174.7" width="112.6" height="11.6" fill="#953687"/>
<rect x="573.0" y="174.7" width="111.4" height="11.6" fill="#b68e2c"/>
<rect x="684.4" y="174.7" width="112.4" height="11.6" fill="#953687"/>
<rect x="796.8" y="174.7" width="136.2" height="11.6" fill="#b68e2c"/>
<rect x="933.0" y="174.7" width="87.9" height="11.6" fill="#953687"/>
<rect x="1020.9" y="174.7" width="112.1" height="11.6" fill="#b68e2c"/>
<rect x="1133.0" y="174.7" width="111.0" height="11.6" fill="#953687"/>
<rect x="1244.0" y="174.7" width="112.6" height="11.6" fill="#b68e2c"/>
<rect x="1356.6" y="174.7" width="111.4" height="11.6" fill="#953687"/>
<rect x="1468.0" y="174.7" width="113.5" height="11.6" fill="#b68e2c"/>
<rect x="1581.5" y="174.7" width="89.5" height="11.6" fill="#953687"/>
<rect x="491.5" y="174.7" width="1" height="11.6" fill="#5a3a8a"/>
<rect x="504.0" y="174.7" width="1" height="11.6" fill="#5a3a8a"/>
<rect x="1215.5" y="174.7" width="1" height="11.6" fill="#5a3a8a"/>
<text x="127.0" y="183.3" font-size="10.5" fill="#000" text-anchor="start" font-weight="bold" >0+</text>
<text x="239.5" y="183.3" font-size="10.5" fill="#fff" text-anchor="start" font-weight="bold" >5+</text>
<text x="352.0" y="183.3" font-size="10.5" fill="#000" text-anchor="start" font-weight="bold" >0+</text>
<text x="462.9" y="183.3" font-size="10.5" fill="#fff" text-anchor="start" font-weight="bold" >5+</text>
<text x="575.5" y="183.3" font-size="10.5" fill="#000" text-anchor="start" font-weight="bold" >0+</text>
<text x="686.9" y="183.3" font-size="10.5" fill="#fff" text-anchor="start" font-weight="bold" >5+</text>
<text x="799.3" y="183.3" font-size="10.5" fill="#000" text-anchor="start" font-weight="bold" >0+</text>
<text x="935.5" y="183.3" font-size="10.5" fill="#fff" text-anchor="start" font-weight="bold" >5+</text>
<text x="1023.4" y="183.3" font-size="10.5" fill="#000" text-anchor="start" font-weight="bold" >0+</text>
<text x="1135.5" y="183.3" font-size="10.5" fill="#fff" text-anchor="start" font-weight="bold" >5+</text>
<text x="1246.5" y="183.3" font-size="10.5" fill="#000" text-anchor="start" font-weight="bold" >0+</text>
<text x="1359.1" y="183.3" font-size="10.5" fill="#fff" text-anchor="start" font-weight="bold" >5+</text>
<text x="1470.5" y="183.3" font-size="10.5" fill="#000" text-anchor="start" font-weight="bold" >0+</text>
<text x="1584.0" y="183.3" font-size="10.5" fill="#fff" text-anchor="start" font-weight="bold" >5+</text>
<text x="277" y="183.3" font-size="10.5" fill="#fff" text-anchor="start" font-weight="bold" >5+</text>
<text x="506" y="183.3" font-size="10.5" fill="#fff" text-anchor="start" font-weight="bold" >5+</text>
<text x="1218" y="183.3" font-size="10.5" fill="#fff" text-anchor="start" font-weight="bold" >5+</text>
<rect x="171.8" y="45" width="1" height="154" fill="rgba(255,255,255,0.06)"/>
<rect x="283.7" y="45" width="1" height="154" fill="rgba(255,255,255,0.06)"/>
<rect x="395.6" y="45" width="1" height="154" fill="rgba(255,255,255,0.06)"/>
<rect x="507.5" y="45" width="1" height="154" fill="rgba(255,255,255,0.06)"/>
<rect x="619.4" y="45" width="1" height="154" fill="rgba(255,255,255,0.06)"/>
<rect x="731.3" y="45" width="1" height="154" fill="rgba(255,255,255,0.06)"/>
<rect x="843.2" y="45" width="1" height="154" fill="rgba(255,255,255,0.06)"/>
<rect x="955.1" y="45" width="1" height="154" fill="rgba(255,255,255,0.06)"/>
<rect x="1067.0" y="45" width="1" height="154" fill="rgba(255,255,255,0.06)"/>
<rect x="1178.9" y="45" width="1" height="154" fill="rgba(255,255,255,0.06)"/>
<rect x="1290.8" y="45" width="1" height="154" fill="rgba(255,255,255,0.06)"/>
<rect x="1402.7" y="45" width="1" height="154" fill="rgba(255,255,255,0.06)"/>
<rect x="1514.6" y="45" width="1" height="154" fill="rgba(255,255,255,0.06)"/>
<rect x="1626.5" y="45" width="1" height="154" fill="rgba(255,255,255,0.06)"/>
<text x="172.3" y="215.3" font-size="11" fill="#ccccdc" text-anchor="middle" font-weight="normal" >12/31 00:00</text>
<text x="284.20000000000005" y="215.3" font-size="11" fill="#ccccdc" text-anchor="middle" font-weight="normal" >12/31 12:00</text>
<text x="396.1" y="215.3" font-size="11" fill="#ccccdc" text-anchor="middle" font-weight="normal" >01/01 00:00</text>
<text x="508.00000000000006" y="215.3" font-size="11" fill="#ccccdc" text-anchor="middle" font-weight="normal" >01/01 12:00</text>
<text x="619.9000000000001" y="215.3" font-size="11" fill="#ccccdc" text-anchor="middle" font-weight="normal" >01/02 00:00</text>
<text x="731.8" y="215.3" font-size="11" fill="#ccccdc" text-anchor="middle" font-weight="normal" >01/02 12:00</text>
<text x="843.7" y="215.3" font-size="11" fill="#ccccdc" text-anchor="middle" font-weight="normal" >01/03 00:00</text>
<text x="955.6000000000001" y="215.3" font-size="11" fill="#ccccdc" text-anchor="middle" font-weight="normal" >01/03 12:00</text>
<text x="1067.5" y="215.3" font-size="11" fill="#ccccdc" text-anchor="middle" font-weight="normal" >01/04 00:00</text>
<text x="1179.4" y="215.3" font-size="11" fill="#ccccdc" text-anchor="middle" font-weight="normal" >01/04 12:00</text>
<text x="1291.3" y="215.3" font-size="11" fill="#ccccdc" text-anchor="middle" font-weight="normal" >01/05 00:00</text>
<text x="1403.2" y="215.3" font-size="11" fill="#ccccdc" text-anchor="middle" font-weight="normal" >01/05 12:00</text>
<text x="1515.1000000000001" y="215.3" font-size="11" fill="#ccccdc" text-anchor="middle" font-weight="normal" >01/06 00:00</text>
<text x="1627.0" y="215.3" font-size="11" fill="#ccccdc" text-anchor="middle" font-weight="normal" >01/06 12:00</text>
<text x="850" y="252" font-size="12.3" fill="#ccccdc" text-anchor="middle" font-weight="normal" stroke="#ccccdc" stroke-width="0.3">Wasserdruck</text>
<rect x="64" y="276" width="1607" height="171.1" fill="#131a12"/>
<rect x="64" y="447.1" width="1607" height="169.9" fill="#28190b"/>
<rect x="64" y="616.5" width="1607" height="1" fill="rgba(204,204,220,0.1)"/>
<text x="56" y="620.0" font-size="11" fill="#ccccdc" text-anchor="end" font-weight="normal" >1.0 bar</text>
<rect x="64" y="582.4" width="1607" height="1" fill="rgba(204,204,220,0.1)"/>
<text x="56" y="585.9" font-size="11" fill="#ccccdc" text-anchor="end" font-weight="normal" >1.1 bar</text>
<rect x="64" y="548.3" width="1607" height="1" fill="rgba(204,204,220,0.1)"/>
<text x="56" y="551.8" font-size="11" fill="#ccccdc" text-anchor="end" font-weight="normal" >1.2 bar</text>
<rect x="64" y="514.2" width="1607" height="1" fill="rgba(204,204,220,0.1)"/>
<text x="56" y="517.7" font-size="11" fill="#ccccdc" text-anchor="end" font-weight="normal" >1.3 bar</text>
<rect x="64" y="480.1" width="1607" height="1" fill="rgba(204,204,220,0.1)"/>
<text x="56" y="483.6" font-size="11" fill="#ccccdc" text-anchor="end" font-weight="normal" >1.4 bar</text>
<rect x="64" y="446.0" width="1607" height="1" fill="rgba(204,204,220,0.1)"/>
<text x="56" y="449.5" font-size="11" fill="#ccccdc" text-anchor="end" font-weight="normal" >1.5 bar</text>
<rect x="64" y="411.9" width="1607" height="1" fill="rgba(204,204,220,0.1)"/>
<text x="56" y="415.4" font-size="11" fill="#ccccdc" text-anchor="end" font-weight="normal" >1.6 bar</text>
<rect x="64" y="377.8" width="1607" height="1" fill="rgba(204,204,220,0.1)"/>
<text x="56" y="381.29999999999995" font-size="11" fill="#ccccdc" text-anchor="end" font-weight="normal" >1.7 bar</text>
<rect x="64" y="343.7" width="1607" height="1" fill="rgba(204,204,220,0.1)"/>
<text x="56" y="347.2" font-size="11" fill="#ccccdc" text-anchor="end" font-weight="normal" >1.8 bar</text>
<rect x="64" y="309.6" width="1607" height="1" fill="rgba(204,204,220,0.1)"/>
<text x="56" y="313.1" font-size="11" fill="#ccccdc" text-anchor="end" font-weight="normal" >1.9 bar</text>
<rect x="64" y="275.5" width="1607" height="1" fill="rgba(204,204,220,0.1)"/>
<text x="56" y="279.0" font-size="11" fill="#ccccdc" text-anchor="end" font-weight="normal" >2.0 bar</text>
<rect x="133.7" y="276" width="1" height="341" fill="rgba(204,204,220,0.1)"/>
<text x="134.2" y="633" font-size="11" fill="#ccccdc" text-anchor="middle" font-weight="normal" >12/31 00:00</text>
<rect x="210.2" y="276" width="1" height="341" fill="rgba(204,204,220,0.1)"/>
<text x="210.71999999999997" y="633" font-size="11" fill="#ccccdc" text-anchor="middle" font-weight="normal" >12/31 08:00</text>
<rect x="286.7" y="276" width="1" height="341" fill="rgba(204,204,220,0.1)"/>
<text x="287.24" y="633" font-size="11" fill="#ccccdc" text-anchor="middle" font-weight="normal" >12/31 16:00</text>
<rect x="363.3" y="276" width="1" height="341" fill="rgba(204,204,220,0.1)"/>
<text x="363.76" y="633" font-size="11" fill="#ccccdc" text-anchor="middle" font-weight="normal" >01/01 00:00</text>
<rect x="439.8" y="276" width="1" height="341" fill="rgba(204,204,220,0.1)"/>
<text x="440.28" y="633" font-size="11" fill="#ccccdc" text-anchor="middle" font-weight="normal" >01/01 08:00</text>
<rect x="516.3" y="276" width="1" height="341" fill="rgba(204,204,220,0.1)"/>
<text x="516.8" y="633" font-size="11" fill="#ccccdc" text-anchor="middle" font-weight="normal" >01/01 16:00</text>
<rect x="592.8" y="276" width="1" height="341" fill="rgba(204,204,220,0.1)"/>
<text x="593.3199999999999" y="633" font-size="11" fill="#ccccdc" text-anchor="middle" font-weight="normal" >01/02 00:00</text>
<rect x="669.3" y="276" width="1" height="341" fill="rgba(204,204,220,0.1)"/>
<text x="669.8399999999999" y="633" font-size="11" fill="#ccccdc" text-anchor="middle" font-weight="normal" >01/02 08:00</text>
<rect x="745.9" y="276" width="1" height="341" fill="rgba(204,204,220,0.1)"/>
<text x="746.3599999999999" y="633" font-size="11" fill="#ccccdc" text-anchor="middle" font-weight="normal" >01/02 16:00</text>
<rect x="822.4" y="276" width="1" height="341" fill="rgba(204,204,220,0.1)"/>
<text x="822.8799999999999" y="633" font-size="11" fill="#ccccdc" text-anchor="middle" font-weight="normal" >01/03 00:00</text>
<rect x="898.9" y="276" width="1" height="341" fill="rgba(204,204,220,0.1)"/>
<text x="899.3999999999999" y="633" font-size="11" fill="#ccccdc" text-anchor="middle" font-weight="normal" >01/03 08:00</text>
<rect x="975.4" y="276" width="1" height="341" fill="rgba(204,204,220,0.1)"/>
<text x="975.9199999999998" y="633" font-size="11" fill="#ccccdc" text-anchor="middle" font-weight="normal" >01/03 16:00</text>
<rect x="1051.9" y="276" width="1" height="341" fill="rgba(204,204,220,0.1)"/>
<text x="1052.44" y="633" font-size="11" fill="#ccccdc" text-anchor="middle" font-weight="normal" >01/04 00:00</text>
<rect x="1128.5" y="276" width="1" height="341" fill="rgba(204,204,220,0.1)"/>
<text x="1128.96" y="633" font-size="11" fill="#ccccdc" text-anchor="middle" font-weight="normal" >01/04 08:00</text>
<rect x="1205.0" y="276" width="1" height="341" fill="rgba(204,204,220,0.1)"/>
<text x="1205.48" y="633" font-size="11" fill="#ccccdc" text-anchor="middle" font-weight="normal" >01/04 16:00</text>
<rect x="1281.5" y="276" width="1" height="341" fill="rgba(204,204,220,0.1)"/>
<text x="1282.0" y="633" font-size="11" fill="#ccccdc" text-anchor="middle" font-weight="normal" >01/05 00:00</text>
<rect x="1358.0" y="276" width="1" height="341" fill="rgba(204,204,220,0.1)"/>
<text x="1358.52" y="633" font-size="11" fill="#ccccdc" text-anchor="middle" font-weight="normal" >01/05 08:00</text>
<rect x="1434.5" y="276" width="1" height="341" fill="rgba(204,204,220,0.1)"/>
<text x="1435.04" y="633" font-size="11" fill="#ccccdc" text-anchor="middle" font-weight="normal" >01/05 16:00</text>
<rect x="1511.1" y="276" width="1" height="341" fill="rgba(204,204,220,0.1)"/>
<text x="1511.56" y="633" font-size="11" fill="#ccccdc" text-anchor="middle" font-weight="normal" >01/06 00:00</text>
<rect x="1587.6" y="276" width="1" height="341" fill="rgba(204,204,220,0.1)"/>
<text x="1588.08" y="633" font-size="11" fill="#ccccdc" text-anchor="middle" font-weight="normal" >01/06 08:00</text>
<rect x="1664.1" y="276" width="1" height="341" fill="rgba(204,204,220,0.1)"/>
<clipPath id="cl"><rect x="0" y="0" width="1678" height="956"/></clipPath>
<text x="1664.6" y="633" font-size="11" fill="#ccccdc" text-anchor="middle" font-weight="normal" clip-path="url(#cl)">01/06 16:00</text>
<path d="M67.3 412.4H151.2V429.4H161.8V412.4H163.3V446.5H167.1V412.4H171.8V446.5H177.6V412.4H180.6V429.4H208.2V412.4H209.4V446.5H213.5V429.4H227.6V412.4H228.5V446.5H231.2V412.4H238.2V429.4H255.3V412.4H271.2V429.4H284.7V412.4H286.5V386.5H295.9V378.3H322.4V395.4H332.4V412.4H338.2V429.4H339.6V446.5H341.2V412.4H346.7V429.4H347.6V446.5H349.4V412.4H354.1V429.4H365.9V446.5H367.1V412.4H373.5V429.4H374.5V446.5H375.3V412.4H382.4V429.4H383.5V446.5H384.4V412.4H390.6V429.4H392.1V446.5H392.9V412.4H399.4V429.4H401.5V446.5H402.4V412.4H406.5V429.4H440.0V412.4H441.2V446.5H445.3V429.4H462.9V412.4H468.2V395.4H478.8V429.4H482.4V446.5H483.8V412.4H488.2V429.4H500.6V412.4H550.6V446.5H552.9V412.4H558.8V429.4H634.1V446.5H635.3V412.4H638.8V429.4H655.9V412.4H657.6V446.5H661.2V412.4H665.3V446.5H670.0V412.4H673.5V429.4H682.4V446.5H715.3V429.4H725.3V412.4H785.3V429.4H790.0V446.5H791.2V412.4H798.2V446.5H799.4V412.4H801.2V429.4H806.5V446.5H812.4V429.4H824.1V446.5H940.0V412.4H950.8V401.1H960.0V412.4H1011.2V436.3H1013.0V429.4H1015.3V446.5H1017.1V412.4H1020.6V446.5H1022.4V429.4H1028.8V446.5H1039.4V429.4H1051.2V446.5H1117.1V412.4H1118.2V434.6H1127.1V395.4H1137.6V412.4H1177.6V395.4H1188.2V412.4H1195.9V395.4H1207.1V412.4H1231.8V423.7H1241.2V429.4H1247.1V435.2H1250.6V412.4H1251.8V446.5H1257.1V429.4H1285.9V412.4H1290.6V446.5H1298.8V429.4H1301.2V412.4H1302.4V446.5H1308.8V429.4H1361.8V435.2H1364.1V429.4H1383.5V446.5H1385.3V429.4H1394.1V412.4H1432.9V429.4H1436.0V439.7H1438.0V422.6H1440.0V436.3H1442.0V429.4H1444.7V412.4H1446.5V446.5H1451.8V429.4H1457.6V435.2H1459.4V429.4H1478.8V446.5H1537.1V429.4H1548.8V446.5H1565.9V412.4H1566.9V446.5H1585.9V412.4H1586.9V446.5H1597.3V429.4H1607.4V446.5H1618.4V412.4H1619.4V446.5H1631.7V429.4H1641.8V412.4H1661" fill="none" stroke="#7acb70" stroke-width="2"/>
<rect x="36" y="645" width="13" height="4" rx="1" fill="#73bf69"/>
<text x="56" y="651.5" font-size="11" fill="#ccccdc" text-anchor="start" font-weight="normal" >Wasserdruck&#160;<tspan dx="3.2">Last *: 1.6 bar</tspan></text>
<text x="850" y="689.5" font-size="12.3" fill="#ccccdc" text-anchor="middle" font-weight="normal" stroke="#ccccdc" stroke-width="0.3">Warmwasser</text>
<rect x="65" y="851.5" width="1568" height="1" fill="rgba(204,204,220,0.1)"/>
<text x="1642" y="856.0" font-size="11" fill="#ccccdc" text-anchor="start" font-weight="normal" >0 L/min</text>
<rect x="65" y="819.2" width="1568" height="1" fill="rgba(204,204,220,0.1)"/>
<text x="1642" y="823.75" font-size="11" fill="#ccccdc" text-anchor="start" font-weight="normal" >20 L/mi</text>
<rect x="65" y="787.0" width="1568" height="1" fill="rgba(204,204,220,0.1)"/>
<text x="1642" y="791.5" font-size="11" fill="#ccccdc" text-anchor="start" font-weight="normal" >40 L/mi</text>
<rect x="65" y="754.8" width="1568" height="1" fill="rgba(204,204,220,0.1)"/>
<text x="1642" y="759.25" font-size="11" fill="#ccccdc" text-anchor="start" font-weight="normal" >60 L/mi</text>
<rect x="65" y="722.5" width="1568" height="1" fill="rgba(204,204,220,0.1)"/>
<text x="1642" y="727.0" font-size="11" fill="#ccccdc" text-anchor="start" font-weight="normal" >80 L/mi</text>
<text x="58" y="855.0" font-size="11" fill="#ccccdc" text-anchor="end" font-weight="normal" >35 <tspan dx="-1">°</tspan><tspan dx="-1">C</tspan></text>
<text x="58" y="827.225" font-size="11" fill="#ccccdc" text-anchor="end" font-weight="normal" >40 <tspan dx="-1">°</tspan><tspan dx="-1">C</tspan></text>
<text x="58" y="799.45" font-size="11" fill="#ccccdc" text-anchor="end" font-weight="normal" >45 <tspan dx="-1">°</tspan><tspan dx="-1">C</tspan></text>
<text x="58" y="771.675" font-size="11" fill="#ccccdc" text-anchor="end" font-weight="normal" >50 <tspan dx="-1">°</tspan><tspan dx="-1">C</tspan></text>
<text x="58" y="743.9" font-size="11" fill="#ccccdc" text-anchor="end" font-weight="normal" >55 <tspan dx="-1">°</tspan><tspan dx="-1">C</tspan></text>
<text x="58" y="716.125" font-size="11" fill="#ccccdc" text-anchor="end" font-weight="normal" >60 <tspan dx="-1">°</tspan><tspan dx="-1">C</tspan></text>
<rect x="134.8" y="714" width="1" height="138" fill="rgba(204,204,220,0.1)"/>
<text x="135.3" y="868" font-size="11" fill="#ccccdc" text-anchor="middle" font-weight="normal" >12/31 00:00</text>
<rect x="246.7" y="714" width="1" height="138" fill="rgba(204,204,220,0.1)"/>
<text x="247.16000000000003" y="868" font-size="11" fill="#ccccdc" text-anchor="middle" font-weight="normal" >12/31 12:00</text>
<rect x="358.5" y="714" width="1" height="138" fill="rgba(204,204,220,0.1)"/>
<text x="359.02" y="868" font-size="11" fill="#ccccdc" text-anchor="middle" font-weight="normal" >01/01 00:00</text>
<rect x="470.4" y="714" width="1" height="138" fill="rgba(204,204,220,0.1)"/>
<text x="470.88" y="868" font-size="11" fill="#ccccdc" text-anchor="middle" font-weight="normal" >01/01 12:00</text>
<rect x="582.2" y="714" width="1" height="138" fill="rgba(204,204,220,0.1)"/>
<text x="582.74" y="868" font-size="11" fill="#ccccdc" text-anchor="middle" font-weight="normal" >01/02 00:00</text>
<rect x="694.1" y="714" width="1" height="138" fill="rgba(204,204,220,0.1)"/>
<text x="694.5999999999999" y="868" font-size="11" fill="#ccccdc" text-anchor="middle" font-weight="normal" >01/02 12:00</text>
<rect x="806.0" y="714" width="1" height="138" fill="rgba(204,204,220,0.1)"/>
<text x="806.46" y="868" font-size="11" fill="#ccccdc" text-anchor="middle" font-weight="normal" >01/03 00:00</text>
<rect x="917.8" y="714" width="1" height="138" fill="rgba(204,204,220,0.1)"/>
<text x="918.3199999999999" y="868" font-size="11" fill="#ccccdc" text-anchor="middle" font-weight="normal" >01/03 12:00</text>
<rect x="1029.7" y="714" width="1" height="138" fill="rgba(204,204,220,0.1)"/>
<text x="1030.18" y="868" font-size="11" fill="#ccccdc" text-anchor="middle" font-weight="normal" >01/04 00:00</text>
<rect x="1141.5" y="714" width="1" height="138" fill="rgba(204,204,220,0.1)"/>
<text x="1142.04" y="868" font-size="11" fill="#ccccdc" text-anchor="middle" font-weight="normal" >01/04 12:00</text>
<rect x="1253.4" y="714" width="1" height="138" fill="rgba(204,204,220,0.1)"/>
<text x="1253.8999999999999" y="868" font-size="11" fill="#ccccdc" text-anchor="middle" font-weight="normal" >01/05 00:00</text>
<rect x="1365.3" y="714" width="1" height="138" fill="rgba(204,204,220,0.1)"/>
<text x="1365.76" y="868" font-size="11" fill="#ccccdc" text-anchor="middle" font-weight="normal" >01/05 12:00</text>
<rect x="1477.1" y="714" width="1" height="138" fill="rgba(204,204,220,0.1)"/>
<text x="1477.62" y="868" font-size="11" fill="#ccccdc" text-anchor="middle" font-weight="normal" >01/06 00:00</text>
<rect x="1589.0" y="714" width="1" height="138" fill="rgba(204,204,220,0.1)"/>
<text x="1589.48" y="868" font-size="11" fill="#ccccdc" text-anchor="middle" font-weight="normal" >01/06 12:00</text>
<polygon points="66.5,852 66.5,744.7 68.1,746.8 73.8,746.8 75.4,749.6 82.7,749.6 84.3,752.3 95.7,752.3 97.3,754.9 109.4,754.9 111.1,757.7 122.4,757.7 124.0,760.4 135.4,760.4 137.0,763.4 150.8,763.4 152.4,766.6 162.9,766.6 164.5,769.2 176.7,769.2 178.3,771.8 191.3,771.8 192.9,774.7 204.2,774.7 205.9,781.2 206.7,788.5 212.4,788.5 213.6,793.8 224.5,793.8 227.0,802.2 227.0,805.5 237.5,805.5 239.1,823.3 240.7,829.8 241.5,827.4 268.6,827.4 269.4,833.0 282.4,743.1 284.0,742.6 287.3,744.2 288.1,746.8 309.2,746.8 310.3,749.1 319.7,749.1 321.3,752.0 328.9,752.0 330.2,754.8 342.4,754.8 343.7,757.5 353.7,757.5 355.0,760.4 367.5,760.4 369.1,763.7 381.3,763.7 382.6,766.3 393.4,766.3 394.7,769.0 409.6,769.0 410.9,771.5 421.8,771.5 423.1,774.4 434.9,774.7 435.7,777.1 447.8,777.1 449.1,805.5 450.3,805.5 452.7,768.2 454.3,747.9 455.9,773.1 457.2,779.6 460.8,724.4 462.4,713.9 464.0,713.9 464.8,717.2 465.7,713.9 467.0,713.9 468.1,737.4 468.9,792.5 472.9,793.3 474.6,796.6 481.9,796.6 483.5,802.2 484.3,802.2 485.9,773.1 488.3,740.7 490.8,738.2 494.8,738.2 495.6,740.7 505.4,740.7 506.2,747.5 511.0,747.5 511.8,749.6 526.4,749.6 527.2,752.3 533.7,752.3 538.6,757.7 549.9,757.7 550.7,760.4 562.1,760.4 562.9,763.7 575.9,763.7 576.7,766.3 588.5,766.3 589.6,769.0 602.1,769.0 603.4,771.8 618.8,771.8 620.4,774.7 631.3,774.7 632.6,776.8 645.1,776.8 645.9,779.6 651.6,779.6 653.2,786.0 654.8,787.7 658.1,789.3 659.7,795.8 661.3,818.5 663.0,834.7 665.4,837.9 671.1,837.9 671.9,847.6 673.5,849.2 674.3,846.8 698.6,846.8 699.4,848.4 701.0,831.4 704.3,779.6 707.5,766.6 710.8,740.7 724.5,740.7 725.3,743.9 735.1,743.9 735.9,746.8 749.7,746.8 750.5,749.2 759.4,749.2 760.2,752.0 768.3,752.0 769.1,754.4 778.0,754.4 778.8,757.4 788.6,757.4 789.4,760.4 798.3,760.4 799.9,763.7 895.9,763.7 895.9,813.3 921.0,813.3 921.0,774.4 929.1,774.4 929.9,751.2 932.4,741.5 939.7,740.7 942.9,746.3 955.9,746.3 956.7,749.1 963.2,749.1 964.8,752.0 972.1,752.0 973.7,754.8 983.4,754.8 984.2,766.6 993.1,766.6 994.7,769.0 998.8,769.0 999.6,771.5 1007.7,771.5 1009.7,774.4 1028.4,774.4 1030.0,776.8 1047.8,776.8 1049.4,779.6 1068.1,779.6 1069.7,783.3 1087.5,783.3 1089.1,785.6 1094.8,785.6 1096.4,795.8 1097.2,769.8 1103.7,741.5 1106.2,742.3 1107.8,746.8 1111.0,746.8 1113.5,754.4 1117.5,755.2 1118.3,757.7 1128.0,757.7 1128.9,760.4 1137.8,760.4 1139.4,763.7 1144.2,763.7 1145.1,786.8 1146.7,779.6 1149.1,763.3 1154.0,741.5 1168.6,741.5 1170.2,743.9 1177.5,743.9 1179.9,749.6 1184.8,749.6 1186.4,752.8 1191.2,756.1 1194.5,763.3 1196.9,768.2 1199.7,771.5 1212.7,771.5 1214.3,774.4 1219.2,774.4 1221.6,777.1 1224.0,779.6 1226.5,783.3 1248.3,783.3 1249.2,785.6 1269.4,785.6 1271.0,788.5 1289.7,788.5 1290.5,790.9 1308.3,790.9 1309.9,793.8 1324.5,793.8 1326.1,807.9 1341.5,807.9 1343.2,813.3 1352.9,813.3 1354.5,829.8 1356.1,808.7 1359.4,773.1 1362.6,761.7 1365.9,741.5 1374.8,741.5 1378.0,749.6 1390.5,749.6 1393.0,754.4 1393.8,766.3 1404.3,766.3 1405.9,769.0 1424.6,769.0 1426.2,771.5 1439.2,771.5 1440.8,774.4 1454.6,774.4 1456.2,776.8 1474.0,776.8 1475.6,779.6 1493.5,779.6 1495.1,783.3 1512.1,783.3 1513.7,785.6 1530.7,785.6 1531.5,788.5 1547.7,788.5 1549.4,799.0 1551.0,805.5 1557.5,805.5 1559.1,812.8 1564.8,812.8 1565.6,818.5 1587.0,818.5 1588.6,821.7 1589.4,831.4 1591.9,829.8 1594.3,832.2 1595.9,808.7 1598.3,781.2 1600.8,769.8 1604.0,752.0 1608.1,740.7 1611.3,740.7 1612.1,743.9 1615.4,743.9 1616.2,747.1 1631.6,747.1 1632.4,749.6 1632.4,852" fill="rgba(242,73,92,0.065)"/>
<rect x="72.2" y="822.0" width="1.5" height="30.0" fill="#d4ac28" fill-opacity="0.85"/>
<rect x="75.8" y="824.1" width="1.5" height="27.9" fill="#d4ac28" fill-opacity="0.85"/>
<rect x="78.7" y="824.1" width="1.5" height="27.9" fill="#d4ac28" fill-opacity="0.85"/>
<rect x="79.8" y="824.1" width="1.5" height="27.9" fill="#d4ac28" fill-opacity="0.85"/>
<rect x="92.8" y="825.7" width="1.5" height="26.3" fill="#d4ac28" fill-opacity="0.85"/>
<rect x="132.7" y="834.7" width="1.5" height="17.3" fill="#d4ac28" fill-opacity="0.85"/>
<rect x="203.7" y="823.3" width="2" height="28.7" fill="#d4ac28" fill-opacity="0.85"/>
<rect x="204.2" y="782.8" width="1" height="69.2" fill="#d4ac28" fill-opacity="0.85"/>
<rect x="212.1" y="807.1" width="1.5" height="44.9" fill="#d4ac28" fill-opacity="0.85"/>
<rect x="225.3" y="823.0" width="1.5" height="29.0" fill="#d4ac28" fill-opacity="0.85"/>
<rect x="237.0" y="772.7" width="1" height="79.3" fill="#d4ac28" fill-opacity="0.85"/>
<rect x="238.7" y="821.7" width="3" height="30.3" fill="#d4ac28" fill-opacity="0.85"/>
<rect x="239.9" y="810.0" width="1" height="42.0" fill="#d4ac28" fill-opacity="0.85"/>
<rect x="251.7" y="821.4" width="1.5" height="30.6" fill="#d4ac28" fill-opacity="0.85"/>
<rect x="251.6" y="821.7" width="1" height="30.3" fill="#d4ac28" fill-opacity="0.85"/>
<rect x="283.5" y="761.7" width="1" height="90.3" fill="#d4ac28" fill-opacity="0.85"/>
<rect x="283.4" y="820.0" width="4" height="32.0" fill="#d4ac28" fill-opacity="0.85"/>
<rect x="314.3" y="793.3" width="1" height="58.7" fill="#d4ac28" fill-opacity="0.85"/>
<rect x="447.2" y="805.5" width="1" height="46.5" fill="#d4ac28" fill-opacity="0.85"/>
<rect x="447.0" y="805.5" width="1" height="46.5" fill="#d4ac28" fill-opacity="0.85"/>
<rect x="449.7" y="821.0" width="2" height="31.0" fill="#d4ac28" fill-opacity="0.85"/>
<rect x="454.9" y="727.7" width="1" height="124.3" fill="#d4ac28" fill-opacity="0.85"/>
<rect x="454.5" y="769.8" width="3" height="82.2" fill="#d4ac28" fill-opacity="0.85"/>
<rect x="465.8" y="790.9" width="3" height="61.1" fill="#d4ac28" fill-opacity="0.85"/>
<rect x="475.9" y="821.4" width="1.5" height="30.6" fill="#d4ac28" fill-opacity="0.85"/>
<rect x="481.4" y="821.7" width="2" height="30.3" fill="#d4ac28" fill-opacity="0.85"/>
<rect x="504.4" y="823.0" width="2" height="29.0" fill="#d4ac28" fill-opacity="0.85"/>
<rect x="533.7" y="769.0" width="1" height="83.0" fill="#d4ac28" fill-opacity="0.85"/>
<rect x="533.8" y="823.0" width="2.5" height="29.0" fill="#d4ac28" fill-opacity="0.85"/>
<rect x="650.5" y="795.8" width="1.5" height="56.2" fill="#d4ac28" fill-opacity="0.85"/>
<rect x="660.0" y="756.9" width="1.5" height="95.1" fill="#d4ac28" fill-opacity="0.85"/>
<rect x="659.0" y="812.0" width="4" height="40.0" fill="#d4ac28" fill-opacity="0.85"/>
<rect x="670.1" y="821.7" width="1" height="30.3" fill="#d4ac28" fill-opacity="0.85"/>
<rect x="673.0" y="823.3" width="2" height="28.7" fill="#d4ac28" fill-opacity="0.85"/>
<rect x="758.4" y="824.1" width="1" height="27.9" fill="#d4ac28" fill-opacity="0.85"/>
<rect x="760.8" y="815.2" width="2" height="36.8" fill="#d4ac28" fill-opacity="0.85"/>
<rect x="776.7" y="825.7" width="2" height="26.3" fill="#d4ac28" fill-opacity="0.85"/>
<rect x="939.2" y="776.3" width="1" height="75.7" fill="#d4ac28" fill-opacity="0.85"/>
<rect x="939.8" y="821.7" width="2.5" height="30.3" fill="#d4ac28" fill-opacity="0.85"/>
<rect x="961.8" y="821.4" width="2" height="30.6" fill="#d4ac28" fill-opacity="0.85"/>
<rect x="982.9" y="780.9" width="1" height="71.1" fill="#d4ac28" fill-opacity="0.85"/>
<rect x="981.6" y="820.0" width="2" height="32.0" fill="#d4ac28" fill-opacity="0.85"/>
<rect x="997.3" y="823.3" width="2" height="28.7" fill="#d4ac28" fill-opacity="0.85"/>
<rect x="1105.2" y="822.5" width="2" height="29.5" fill="#d4ac28" fill-opacity="0.85"/>
<rect x="1107.6" y="807.9" width="1" height="44.1" fill="#d4ac28" fill-opacity="0.85"/>
<rect x="1111.8" y="821.4" width="1" height="30.6" fill="#d4ac28" fill-opacity="0.85"/>
<rect x="1143.7" y="821.4" width="2" height="30.6" fill="#d4ac28" fill-opacity="0.85"/>
<rect x="1147.8" y="816.0" width="2" height="36.0" fill="#d4ac28" fill-opacity="0.85"/>
<rect x="1176.6" y="801.4" width="1" height="50.6" fill="#d4ac28" fill-opacity="0.85"/>
<rect x="1176.8" y="823.3" width="3" height="28.7" fill="#d4ac28" fill-opacity="0.85"/>
<rect x="1181.0" y="778.7" width="1" height="73.3" fill="#d4ac28" fill-opacity="0.85"/>
<rect x="1184.9" y="821.4" width="3" height="30.6" fill="#d4ac28" fill-opacity="0.85"/>
<rect x="1187.2" y="771.5" width="1" height="80.5" fill="#d4ac28" fill-opacity="0.85"/>
<rect x="1190.7" y="821.4" width="1" height="30.6" fill="#d4ac28" fill-opacity="0.85"/>
<rect x="1193.0" y="821.7" width="2" height="30.3" fill="#d4ac28" fill-opacity="0.85"/>
<rect x="1194.5" y="778.0" width="1" height="74.0" fill="#d4ac28" fill-opacity="0.85"/>
<rect x="1196.3" y="822.5" width="2" height="29.5" fill="#d4ac28" fill-opacity="0.85"/>
<rect x="1213.0" y="823.3" width="1" height="28.7" fill="#d4ac28" fill-opacity="0.85"/>
<rect x="1218.2" y="833.8" width="1" height="18.2" fill="#d4ac28" fill-opacity="0.85"/>
<rect x="1221.9" y="833.0" width="1" height="19.0" fill="#d4ac28" fill-opacity="0.85"/>
<rect x="1324.5" y="789.3" width="1" height="62.7" fill="#d4ac28" fill-opacity="0.85"/>
<rect x="1324.3" y="821.7" width="2" height="30.3" fill="#d4ac28" fill-opacity="0.85"/>
<rect x="1340.9" y="822.5" width="2" height="29.5" fill="#d4ac28" fill-opacity="0.85"/>
<rect x="1351.9" y="821.7" width="2" height="30.3" fill="#d4ac28" fill-opacity="0.85"/>
<rect x="1374.3" y="821.7" width="2.5" height="30.3" fill="#d4ac28" fill-opacity="0.85"/>
<rect x="1392.3" y="790.9" width="2" height="61.1" fill="#d4ac28" fill-opacity="0.85"/>
<rect x="1433.0" y="828.2" width="2" height="23.8" fill="#d4ac28" fill-opacity="0.85"/>
<rect x="1549.4" y="784.1" width="1" height="67.9" fill="#d4ac28" fill-opacity="0.85"/>
<rect x="1548.3" y="809.5" width="3" height="42.5" fill="#d4ac28" fill-opacity="0.85"/>
<rect x="1557.3" y="822.5" width="2" height="29.5" fill="#d4ac28" fill-opacity="0.85"/>
<rect x="1563.8" y="821.4" width="2" height="30.6" fill="#d4ac28" fill-opacity="0.85"/>
<rect x="1586.8" y="821.7" width="2" height="30.3" fill="#d4ac28" fill-opacity="0.85"/>
<rect x="1588.7" y="821.7" width="3" height="30.3" fill="#d4ac28" fill-opacity="0.85"/>
<rect x="1603.8" y="821.7" width="2" height="30.3" fill="#d4ac28" fill-opacity="0.85"/>
<rect x="1610.0" y="803.0" width="2" height="49.0" fill="#d4ac28" fill-opacity="0.85"/>
<rect x="1612.7" y="821.4" width="2" height="30.6" fill="#d4ac28" fill-opacity="0.85"/>
<polyline points="66.5,744.7 68.1,746.8 73.8,746.8 75.4,749.6 82.7,749.6 84.3,752.3 95.7,752.3 97.3,754.9 109.4,754.9 111.1,757.7 122.4,757.7 124.0,760.4 135.4,760.4 137.0,763.4 150.8,763.4 152.4,766.6 162.9,766.6 164.5,769.2 176.7,769.2 178.3,771.8 191.3,771.8 192.9,774.7 204.2,774.7 205.9,781.2 206.7,788.5 212.4,788.5 213.6,793.8 224.5,793.8 227.0,802.2 227.0,805.5 237.5,805.5 239.1,823.3 240.7,829.8 241.5,827.4 268.6,827.4 269.4,833.0 282.4,743.1 284.0,742.6 287.3,744.2 288.1,746.8 309.2,746.8 310.3,749.1 319.7,749.1 321.3,752.0 328.9,752.0 330.2,754.8 342.4,754.8 343.7,757.5 353.7,757.5 355.0,760.4 367.5,760.4 369.1,763.7 381.3,763.7 382.6,766.3 393.4,766.3 394.7,769.0 409.6,769.0 410.9,771.5 421.8,771.5 423.1,774.4 434.9,774.7 435.7,777.1 447.8,777.1 449.1,805.5 450.3,805.5 452.7,768.2 454.3,747.9 455.9,773.1 457.2,779.6 460.8,724.4 462.4,713.9 464.0,713.9 464.8,717.2 465.7,713.9 467.0,713.9 468.1,737.4 468.9,792.5 472.9,793.3 474.6,796.6 481.9,796.6 483.5,802.2 484.3,802.2 485.9,773.1 488.3,740.7 490.8,738.2 494.8,738.2 495.6,740.7 505.4,740.7 506.2,747.5 511.0,747.5 511.8,749.6 526.4,749.6 527.2,752.3 533.7,752.3 538.6,757.7 549.9,757.7 550.7,760.4 562.1,760.4 562.9,763.7 575.9,763.7 576.7,766.3 588.5,766.3 589.6,769.0 602.1,769.0 603.4,771.8 618.8,771.8 620.4,774.7 631.3,774.7 632.6,776.8 645.1,776.8 645.9,779.6 651.6,779.6 653.2,786.0 654.8,787.7 658.1,789.3 659.7,795.8 661.3,818.5 663.0,834.7 665.4,837.9 671.1,837.9 671.9,847.6 673.5,849.2 674.3,846.8 698.6,846.8 699.4,848.4 701.0,831.4 704.3,779.6 707.5,766.6 710.8,740.7 724.5,740.7 725.3,743.9 735.1,743.9 735.9,746.8 749.7,746.8 750.5,749.2 759.4,749.2 760.2,752.0 768.3,752.0 769.1,754.4 778.0,754.4 778.8,757.4 788.6,757.4 789.4,760.4 798.3,760.4 799.9,763.7 895.9,763.7 895.9,813.3 921.0,813.3 921.0,774.4 929.1,774.4 929.9,751.2 932.4,741.5 939.7,740.7 942.9,746.3 955.9,746.3 956.7,749.1 963.2,749.1 964.8,752.0 972.1,752.0 973.7,754.8 983.4,754.8 984.2,766.6 993.1,766.6 994.7,769.0 998.8,769.0 999.6,771.5 1007.7,771.5 1009.7,774.4 1028.4,774.4 1030.0,776.8 1047.8,776.8 1049.4,779.6 1068.1,779.6 1069.7,783.3 1087.5,783.3 1089.1,785.6 1094.8,785.6 1096.4,795.8 1097.2,769.8 1103.7,741.5 1106.2,742.3 1107.8,746.8 1111.0,746.8 1113.5,754.4 1117.5,755.2 1118.3,757.7 1128.0,757.7 1128.9,760.4 1137.8,760.4 1139.4,763.7 1144.2,763.7 1145.1,786.8 1146.7,779.6 1149.1,763.3 1154.0,741.5 1168.6,741.5 1170.2,743.9 1177.5,743.9 1179.9,749.6 1184.8,749.6 1186.4,752.8 1191.2,756.1 1194.5,763.3 1196.9,768.2 1199.7,771.5 1212.7,771.5 1214.3,774.4 1219.2,774.4 1221.6,777.1 1224.0,779.6 1226.5,783.3 1248.3,783.3 1249.2,785.6 1269.4,785.6 1271.0,788.5 1289.7,788.5 1290.5,790.9 1308.3,790.9 1309.9,793.8 1324.5,793.8 1326.1,807.9 1341.5,807.9 1343.2,813.3 1352.9,813.3 1354.5,829.8 1356.1,808.7 1359.4,773.1 1362.6,761.7 1365.9,741.5 1374.8,741.5 1378.0,749.6 1390.5,749.6 1393.0,754.4 1393.8,766.3 1404.3,766.3 1405.9,769.0 1424.6,769.0 1426.2,771.5 1439.2,771.5 1440.8,774.4 1454.6,774.4 1456.2,776.8 1474.0,776.8 1475.6,779.6 1493.5,779.6 1495.1,783.3 1512.1,783.3 1513.7,785.6 1530.7,785.6 1531.5,788.5 1547.7,788.5 1549.4,799.0 1551.0,805.5 1557.5,805.5 1559.1,812.8 1564.8,812.8 1565.6,818.5 1587.0,818.5 1588.6,821.7 1589.4,831.4 1591.9,829.8 1594.3,832.2 1595.9,808.7 1598.3,781.2 1600.8,769.8 1604.0,752.0 1608.1,740.7 1611.3,740.7 1612.1,743.9 1615.4,743.9 1616.2,747.1 1631.6,747.1 1632.4,749.6" fill="none" stroke="#fa4d62" stroke-width="2" stroke-linejoin="round"/>
<rect x="36" y="880.5" width="13" height="4" rx="1" fill="#f2495c"/>
<text x="56" y="886.5" font-size="11" fill="#ccccdc" text-anchor="start" font-weight="normal" >Speichertemp&#160;<tspan dx="3.2">Last *: 53.5 °C</tspan></text>
<rect x="1518" y="880.5" width="12" height="4" rx="1" fill="#fade2a"/>
<text x="1537" y="886.5" font-size="11" fill="#ccccdc" text-anchor="start" font-weight="normal" >Durchfluss&#160;<tspan dx="3.2">Last *: 0 L/min</tspan></text>
<rect x="64" y="932.7" width="1570" height="1" fill="rgba(204,204,220,0.12)"/>
<text x="58" y="936" font-size="11" fill="#ccccdc" text-anchor="end" font-weight="normal" >80</text>
<rect x="134.5" y="921" width="1" height="35" fill="rgba(204,204,220,0.1)"/>
<rect x="246.4" y="921" width="1" height="35" fill="rgba(204,204,220,0.1)"/>
<rect x="358.3" y="921" width="1" height="35" fill="rgba(204,204,220,0.1)"/>
<rect x="470.2" y="921" width="1" height="35" fill="rgba(204,204,220,0.1)"/>
<rect x="582.1" y="921" width="1" height="35" fill="rgba(204,204,220,0.1)"/>
<rect x="694.0" y="921" width="1" height="35" fill="rgba(204,204,220,0.1)"/>
<rect x="805.9" y="921" width="1" height="35" fill="rgba(204,204,220,0.1)"/>
<rect x="917.8" y="921" width="1" height="35" fill="rgba(204,204,220,0.1)"/>
<rect x="1029.7" y="921" width="1" height="35" fill="rgba(204,204,220,0.1)"/>
<rect x="1141.6" y="921" width="1" height="35" fill="rgba(204,204,220,0.1)"/>
<rect x="1253.5" y="921" width="1" height="35" fill="rgba(204,204,220,0.1)"/>
<rect x="1365.4" y="921" width="1" height="35" fill="rgba(204,204,220,0.1)"/>
<rect x="1477.3" y="921" width="1" height="35" fill="rgba(204,204,220,0.1)"/>
<rect x="1589.2" y="921" width="1" height="35" fill="rgba(204,204,220,0.1)"/>
<text x="1642" y="951" font-size="11" fill="#ccccdc" text-anchor="start" font-weight="normal" >15</text>
<rect x="1635" y="946.5" width="4" height="1" fill="rgba(204,204,220,0.3)"/>
<rect x="1352" y="932" width="3" height="24" fill="#ca7de4"/>
<circle cx="228.4" cy="955.0" r="1.1" fill="#ff9830"/>
<circle cx="234.2" cy="949.0" r="1.1" fill="#ff9830"/>
<circle cx="241.3" cy="943.3" r="1.1" fill="#ff9830"/>
<circle cx="248.8" cy="939.8" r="1.1" fill="#ff9830"/>
<circle cx="256.6" cy="936.7" r="1.1" fill="#ff9830"/>
<circle cx="264.1" cy="935.5" r="1.1" fill="#ff9830"/>
<circle cx="273.0" cy="934.6" r="1.1" fill="#ff9830"/>
<circle cx="281.3" cy="936.2" r="1.1" fill="#ff9830"/>
<circle cx="288.8" cy="940.7" r="1.1" fill="#ff9830"/>
<circle cx="297.1" cy="941.9" r="1.1" fill="#ff9830"/>
<circle cx="305.8" cy="939.1" r="1.1" fill="#ff9830"/>
<circle cx="314.7" cy="940.2" r="1.1" fill="#ff9830"/>
<circle cx="320.6" cy="944.2" r="1.1" fill="#ff9830"/>
<circle cx="327.6" cy="947.3" r="1.1" fill="#ff9830"/>
<circle cx="336.4" cy="946.8" r="1.1" fill="#ff9830"/>
<circle cx="345.3" cy="946.4" r="1.1" fill="#ff9830"/>
<circle cx="354.2" cy="947.3" r="1.1" fill="#ff9830"/>
<circle cx="362.2" cy="948.7" r="1.1" fill="#ff9830"/>
<circle cx="371.2" cy="950.4" r="1.1" fill="#ff9830"/>
<circle cx="380.1" cy="950.4" r="1.1" fill="#ff9830"/>
<circle cx="388.8" cy="950.4" r="1.1" fill="#ff9830"/>
<circle cx="397.5" cy="952.5" r="1.1" fill="#ff9830"/>
<circle cx="405.3" cy="955.0" r="1.1" fill="#ff9830"/>
<circle cx="429.4" cy="955.0" r="1.1" fill="#ff9830"/>
<circle cx="438.1" cy="955.5" r="1.1" fill="#ff9830"/>
<circle cx="446.4" cy="954.4" r="1.1" fill="#ff9830"/>
<circle cx="454.6" cy="952.0" r="1.1" fill="#ff9830"/>
<circle cx="462.8" cy="949.6" r="1.1" fill="#ff9830"/>
<circle cx="471.1" cy="946.8" r="1.1" fill="#ff9830"/>
<circle cx="479.3" cy="945.0" r="1.1" fill="#ff9830"/>
<circle cx="487.5" cy="947.8" r="1.1" fill="#ff9830"/>
<circle cx="495.8" cy="950.4" r="1.1" fill="#ff9830"/>
<circle cx="504.0" cy="953.2" r="1.1" fill="#ff9830"/>
<circle cx="681.2" cy="951.5" r="1.1" fill="#ff9830"/>
<circle cx="689.0" cy="947.3" r="1.1" fill="#ff9830"/>
<circle cx="697.6" cy="947.8" r="1.1" fill="#ff9830"/>
<circle cx="705.9" cy="948.9" r="1.1" fill="#ff9830"/>
<circle cx="714.1" cy="951.5" r="1.1" fill="#ff9830"/>
<circle cx="722.4" cy="954.8" r="1.1" fill="#ff9830"/>
<circle cx="730.6" cy="955.0" r="1.1" fill="#ff9830"/>
<circle cx="738.8" cy="955.0" r="1.1" fill="#ff9830"/>
<path d="M7.7 795.6 L18.1 805.9 L15.6 808.4 L14.5 813 L12.2 810.5 L7.7 810.1 Z" fill="#4a4a4a" stroke="#eeeeee" stroke-width="1.1" stroke-linejoin="round"/>
</svg></body></html>
